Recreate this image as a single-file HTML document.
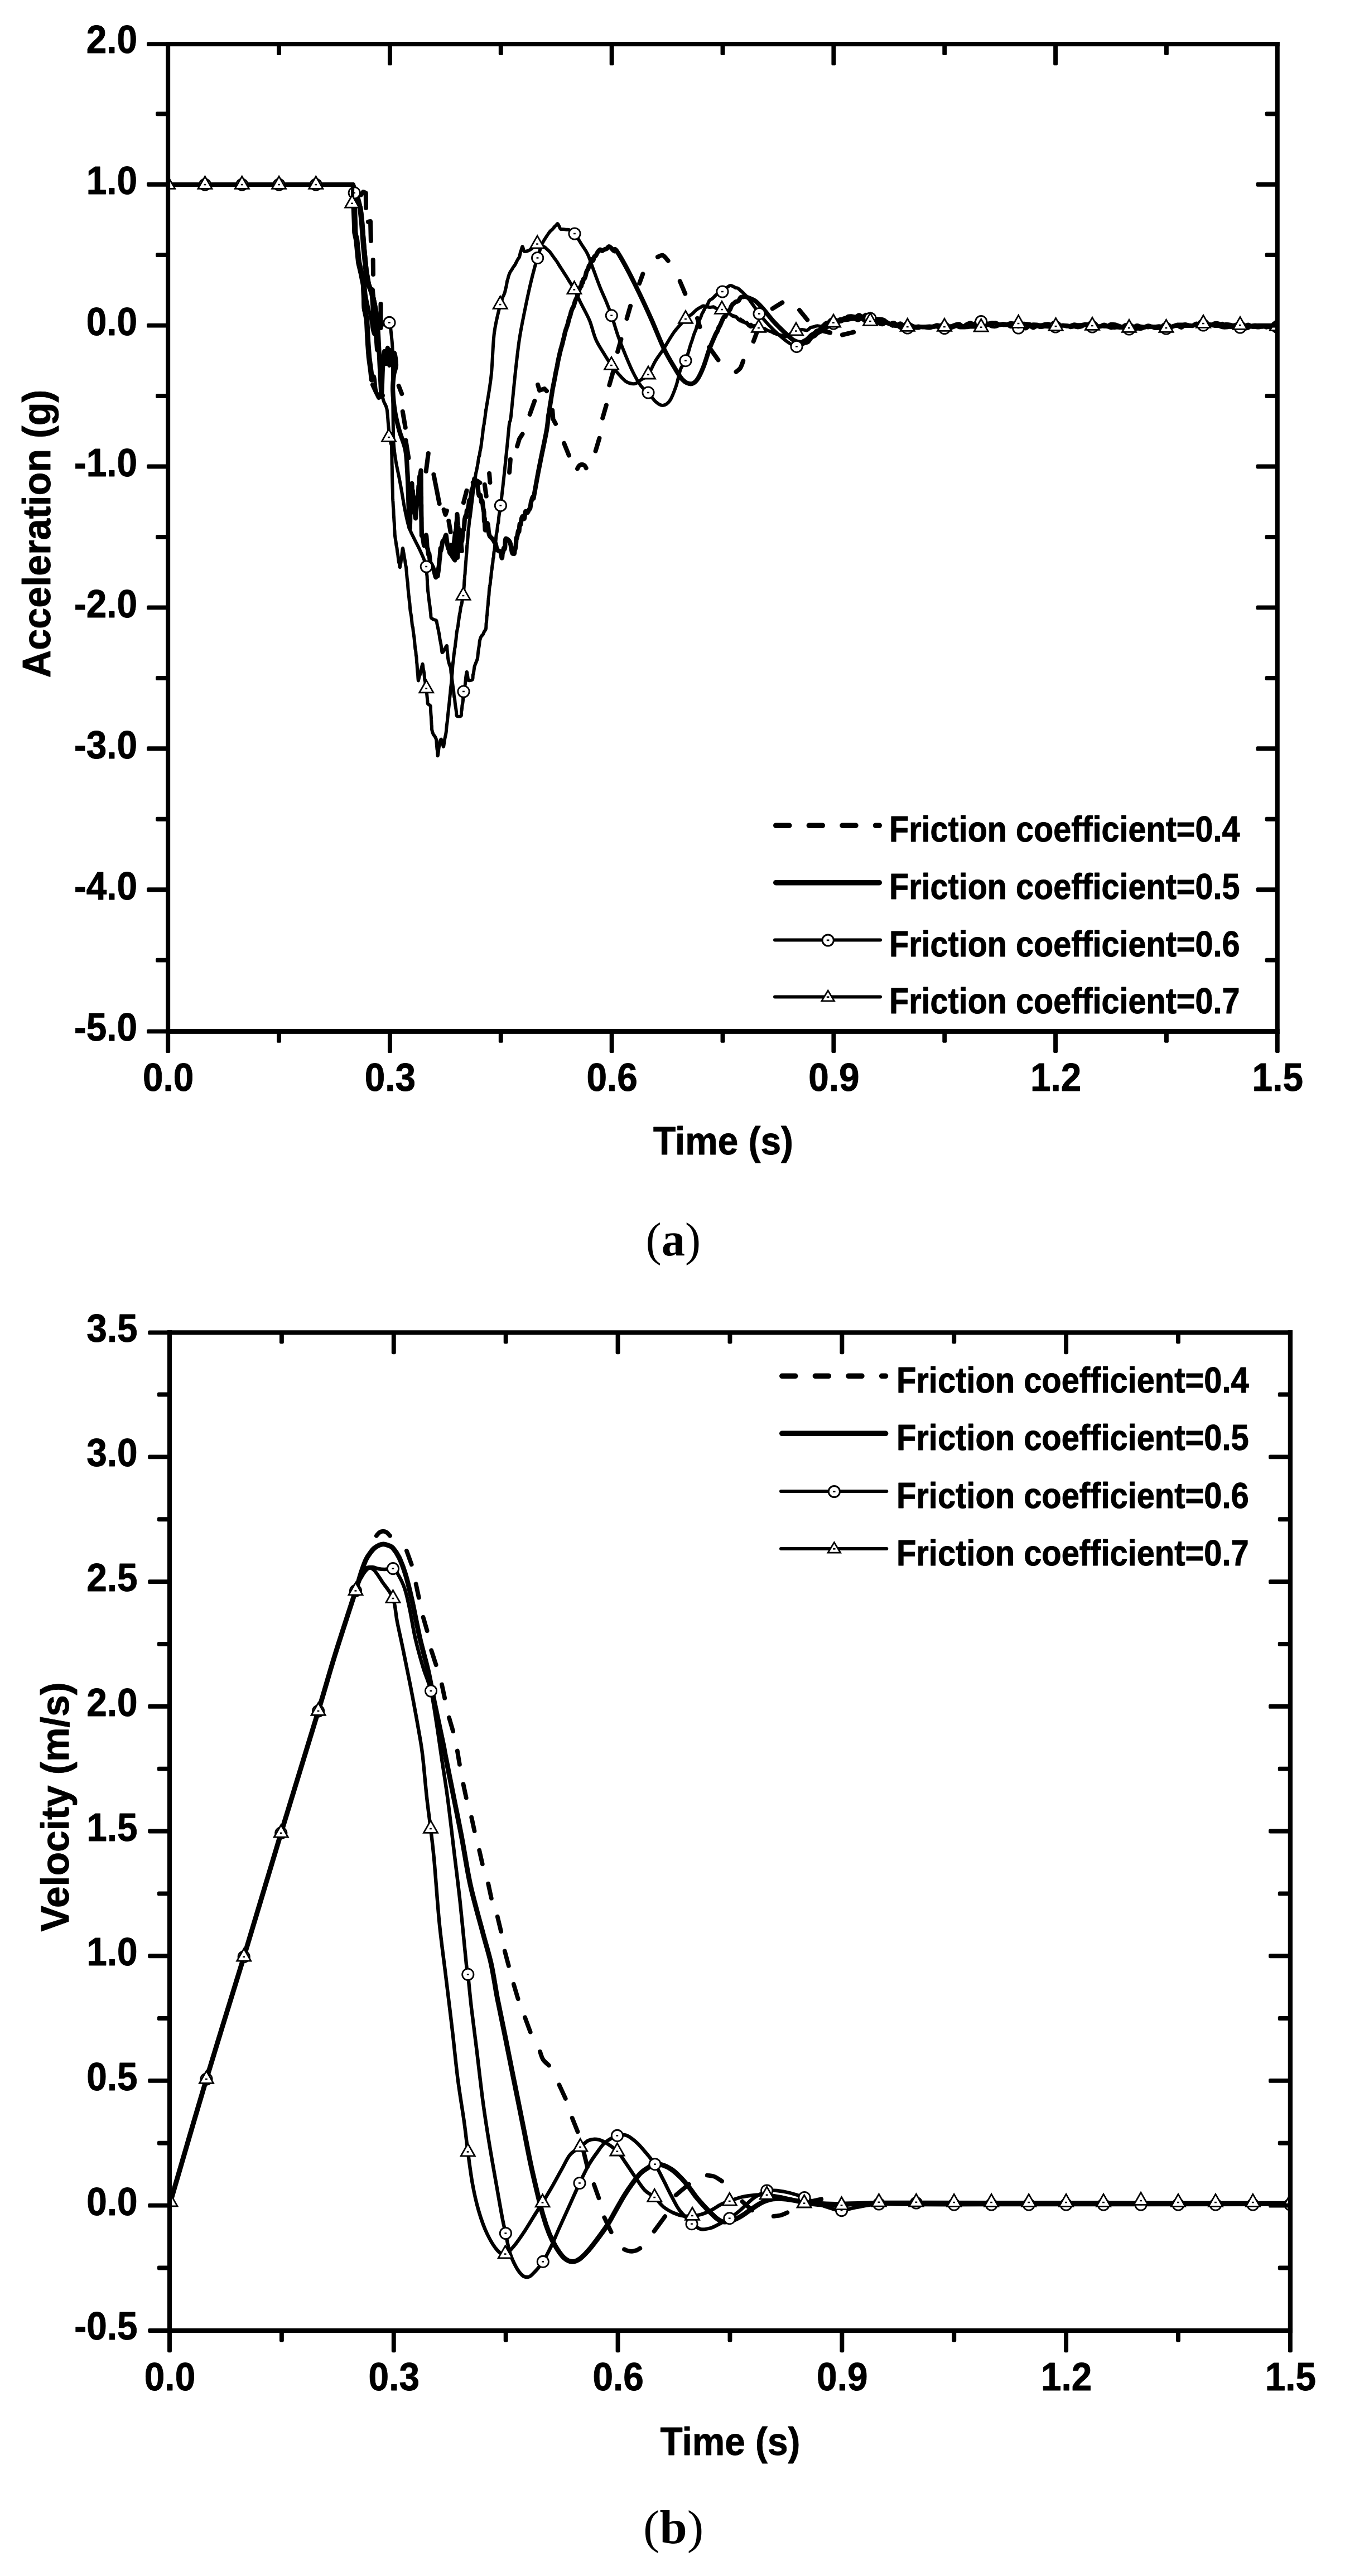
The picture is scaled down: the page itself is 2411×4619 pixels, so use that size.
<!DOCTYPE html>
<html><head><meta charset="utf-8"><title>Figure</title>
<style>html,body{margin:0;padding:0;background:#fff}svg{display:block}</style>
</head><body>
<svg width="2411" height="4619" viewBox="0 0 2411 4619">
<rect width="2411" height="4619" fill="#fff"/>
<clipPath id="ca"><rect x="301.2" y="79.1" width="1988.6000000000001" height="1770.3000000000002"/></clipPath><g clip-path="url(#ca)">
<g fill="none" stroke="#000" stroke-linecap="round" stroke-linejoin="round">
<path d="M647.2 349.4L651 344L655.8 346L656 372.7M660 397.7L664 397L664.9 432M668.7 466L669 492M682.5 545L682.5 588M714.7 691.9L720.3 706.1M721.8 738L726.7 766.6M727.3 789.5L732.3 821M763.7 845L767.8 813M777.4 851L787.6 903M795.6 913.9L798.5 923L800.9 915.9M804.3 934L807.7 954M809.4 977L812 990L816 955L820 1000L824 950L827.8 988M831 901.1L836.5 879.9M847.8 865.2L855 862L860.4 865.8M868.8 869L871.7 889.6M877.1 849L878.4 865M913.1 847L914.9 824M927.1 800.1L931 787L936.5 778.4M949.7 743.1L958.3 718.9M964.1 689.9L967 700L976 697L980 701.1M990.2 735.7L991.5 751.5L996 759.8M1011.1 794.7L1019.8 816.6M1035 840.3C1035.7 839.2 1037.4 835 1039.4 834C1041.4 833 1045.1 833.1 1047 834C1048.9 834.9 1050 838.3 1050.6 839.2M1067.6 808.7L1074.4 785.8M1080.2 749.6L1086.8 726.7M1092.3 690.5L1099.1 666.4M1107.1 630.6L1113.4 608.4M1123.6 571.1L1130 548.9M1146.2 508.1L1152.3 491.3M1178.9 460.9C1180.4 460.4 1184.9 456.7 1188 457.8C1191.1 458.9 1196 465.9 1197.6 467.6M1218.8 504.2L1228.2 526.6M1250.1 570.9L1254.5 586.1M1271.2 622.6L1287.4 645.4M1319.5 666.7C1320.7 665.6 1324.9 663.2 1327 660C1329.1 656.8 1331.4 649.5 1332.2 647.3M1350.7 612.1L1356.3 596.9M1384.7 553.4L1402.3 542.5M1433 556L1447.2 573.5M1471.9 592.5L1488.1 596.5M1509.9 600.5L1530.1 595.5" stroke-width="8.0"/>
<path d="M301.2 331L632.8 331M632.8 331C633.7 333.3 636.3 340.2 638 345C639.7 349.8 641.6 354.8 643 360C644.4 365.2 645.5 370.1 646.5 376C647.5 381.9 647.8 384.3 648.8 395.6C649.8 406.9 651.5 429.1 652.8 443.8C654.1 458.5 655.4 473 656.8 484C658.2 495 659.3 503.2 661 510C662.7 516.8 665.2 519.2 667 525C668.8 530.8 670 537.5 671.5 545C673 552.5 674.9 560.8 676 570C677.1 579.2 677.3 588.3 678 600C678.7 611.7 679.3 626.7 680 640C680.7 653.3 681.3 668.7 682 680C682.7 691.3 683.3 711.3 684 708C684.7 704.7 685.2 673 686 660C686.8 647 688 631.3 689 630C690 628.7 691 653 692 652C693 651 694 623.5 695 624C696 624.5 697 654.3 698 655C699 655.7 700 629.2 701 628C702 626.8 703 647.2 704 648C705 648.8 706 631.8 707 633C708 634.2 710.2 648.5 710 655C709.8 661.5 707 664.5 706 672C705 679.5 703.8 688.7 704.2 700C704.6 711.3 706.3 727.7 708.3 740C710.3 752.3 713.2 762.5 716.3 773.7C719.4 784.9 724.7 794.8 727 807C729.3 819.2 729.5 834.8 730.3 847C731.1 859.2 731.2 867.8 731.7 880C732.2 892.2 732.5 908.8 733 920C733.5 931.2 734.3 944.1 734.6 947C734.9 949.9 734.7 938.4 734.8 937.4C734.8 936.3 734.9 941.2 734.9 940.7C735 940.2 735 937.4 735.1 934.5C735.1 931.6 735.2 925.4 735.2 923.2C735.3 920.9 735.3 922.2 735.4 920.8C735.4 919.5 735.5 916.5 735.5 915.1C735.6 913.6 735.6 913.3 735.7 912.3C735.7 911.2 735.8 911.5 735.8 908.7C735.9 905.8 735.9 898.3 736 895.1C736.1 891.9 736.2 889.6 736.3 889.5C736.4 889.3 736.5 895.1 736.6 894.3C736.7 893.5 736.8 886.4 736.9 884.6C737 882.9 737 886.2 737.1 883.7C737.2 881.2 737.3 872 737.4 869.7C737.5 867.5 737.6 870.4 737.7 870.2C737.8 870 737.9 869.1 738 868.7C738.1 868.2 738.3 865.5 738.4 867.5C738.5 869.6 738.7 878 738.8 880.9C738.9 883.9 739.1 885.4 739.2 885.2C739.3 885 739.5 879.7 739.6 879.6C739.7 879.4 739.9 881.6 740 884.3C740.1 887 740.2 892.1 740.3 895.7C740.3 899.3 740.4 904.3 740.5 905.7C740.6 907.1 740.7 903.9 740.8 904.2C740.9 904.5 741 905.6 741 907.4C741.1 909.2 741.1 913.8 741.3 915.1C741.5 916.3 742.1 913.9 742.5 915C742.9 916.2 743.4 919.6 743.8 922C744.2 924.4 744.7 928.8 745 929.3C745.3 929.7 745.3 927 745.5 924.9C745.7 922.9 745.8 919 746 916.8C746.2 914.6 746.3 913.5 746.5 911.8C746.7 910.1 746.8 907.8 747 906.6C747.2 905.4 747.3 906 747.5 904.5C747.7 903 747.8 900 748 897.5C748.2 894.9 748.3 889.8 748.5 889.3C748.7 888.7 748.8 894.6 749 894.1C749.2 893.5 749.3 887.7 749.5 885.7C749.7 883.6 749.8 884.1 750 881.7C750.2 879.3 750.3 872.2 750.5 871.2C750.7 870.3 750.8 876.2 751 875.9C751.2 875.6 751.3 872.7 751.5 869.3C751.7 865.9 751.8 858.2 752 855.5C752.2 852.7 752.4 853.5 752.6 853C752.8 852.5 753 853.6 753.2 852.7C753.5 851.7 753.7 848.8 753.9 847.5C754.1 846.3 754.4 845.8 754.5 845.2C754.6 844.7 754.5 842.6 754.5 844.1C754.6 845.5 754.6 851.8 754.6 854C754.6 856.1 754.6 856.4 754.6 857C754.6 857.7 754.7 856.1 754.7 857.6C754.7 859.1 754.7 863.2 754.7 866.1C754.7 868.9 754.7 872.4 754.8 874.6C754.8 876.8 754.8 878.2 754.8 879.2C754.8 880.1 754.8 878.9 754.8 880.1C754.8 881.2 754.9 885.3 754.9 886.1C754.9 886.8 754.9 883.4 754.9 884.4C754.9 885.4 754.9 888.7 755 891.9C755 895.1 755 901.6 755 903.6C755 905.6 755.1 903.6 755.1 904C755.1 904.4 755.1 904.1 755.2 906.1C755.2 908 755.2 912.9 755.2 915.6C755.3 918.3 755.3 920.5 755.3 922.4C755.3 924.4 755.4 926.1 755.4 927.1C755.4 928.1 755.4 927.3 755.5 928.5C755.5 929.7 755.5 932.3 755.5 934.3C755.6 936.2 755.6 937.8 755.6 940.1C755.6 942.4 755.7 946.6 755.7 948.3C755.7 950 755.7 949.4 755.8 950.3C755.8 951.1 755.8 952.1 755.8 953.7C755.9 955.3 755.9 958.9 755.9 959.9C755.9 960.8 755.7 958.6 756 959.4C756.3 960.1 757.3 961.5 758 964.5C758.7 967.5 759.5 975.5 760 977.4C760.5 979.4 760.8 977.9 761.2 976.1C761.6 974.4 762 969.5 762.4 966.8C762.8 964.1 763.3 960.5 763.6 959.7C763.9 958.9 764.1 960 764.3 961.8C764.5 963.7 764.7 967.4 765 970.6C765.2 973.9 765.4 979 765.6 981.2C765.9 983.3 766.1 982.7 766.3 983.4C766.5 984.2 766.7 983.6 767 985.5C767.3 987.3 767.7 993.5 768.1 994.7C768.5 995.8 768.8 991.4 769.2 992.5C769.6 993.5 769.9 998 770.3 1001.2C770.7 1004.3 771.2 1009.5 771.7 1011.2C772.2 1012.9 772.7 1010.8 773.1 1011.4C773.6 1012 774.1 1013.8 774.6 1014.8C775.1 1015.7 775.3 1015.5 776 1017.2C776.7 1019 777.7 1022.4 778.6 1025.4C779.4 1028.4 780.3 1034.6 781.1 1035.1C782 1035.6 783.2 1028.8 783.7 1028.5C784.2 1028.1 784.1 1032.9 784.4 1032.9C784.6 1032.9 784.8 1029.9 785 1028.5C785.2 1027.1 785.5 1026.2 785.7 1024.4C785.9 1022.6 786.1 1019.5 786.3 1017.8C786.6 1016 786.8 1015.9 787 1013.7C787.2 1011.6 787.5 1007.1 787.7 1004.8C787.9 1002.5 788.1 1001.9 788.4 999.9C788.6 998 788.8 995.7 789 992.9C789.3 990.1 789.5 984 789.7 983.1C789.9 982.2 790 988 790.4 987.4C790.8 986.8 791.4 982.3 791.9 979.5C792.4 976.7 793 972.3 793.5 970.7C794 969.2 794.4 971 795 970.1C795.6 969.2 796.4 967.1 797.1 965.3C797.9 963.5 798.8 959.5 799.3 959.3C799.8 959 799.9 962 800.2 963.9C800.5 965.8 800.8 968.8 801.1 971C801.5 973.1 801.8 975 802.1 976.7C802.4 978.5 802.7 980.1 803 981.3C803.3 982.6 803.7 983.8 804 984.2C804.3 984.6 804.7 982.6 805 983.7C805.3 984.8 805.2 988.7 806 990.8C806.8 992.8 808.5 993.9 810 996.1C811.5 998.3 814.1 1002.9 815 1004C815.9 1005.1 815.1 1003.7 815.2 1002.6C815.3 1001.4 815.4 998.7 815.4 997C815.5 995.3 815.6 993.8 815.7 992.2C815.7 990.7 815.8 990.4 815.9 987.7C816 985 816 977.7 816.1 976.2C816.2 974.6 816.3 979.2 816.3 978.4C816.4 977.7 816.5 974.7 816.6 971.6C816.6 968.5 816.7 962.7 816.8 959.8C816.9 956.9 816.9 955.9 817 954.2C817.1 952.5 817.2 949.6 817.3 949.5C817.5 949.4 817.6 954.8 817.7 953.7C817.8 952.6 817.9 945.8 818 943C818.1 940.1 818.3 937.4 818.4 936.6C818.5 935.8 818.6 939.2 818.7 938.1C818.8 937.1 818.9 932.8 819.1 930.1C819.2 927.4 819.3 922.5 819.4 922.1C819.5 921.8 819.7 925.4 819.8 927.8C820 930.3 820.1 935.3 820.3 936.9C820.4 938.4 820.6 936.1 820.7 937.2C820.8 938.2 821 940.4 821.1 943C821.3 945.7 821.4 951 821.6 952.9C821.7 954.8 821.8 953.6 822 954.5C822.2 955.3 822.5 956.3 822.8 958C823.1 959.8 823.3 963.9 823.6 965C823.9 966.1 824.1 963.2 824.4 964.8C824.7 966.3 824.9 971.8 825.2 974.3C825.5 976.8 825.7 980.3 826 979.9C826.3 979.4 826.5 974.2 826.8 971.9C827 969.5 827.2 966 827.5 965.7C827.8 965.4 828 970.9 828.2 970C828.5 969.1 828.7 963.3 829 960.1C829.3 957 829.6 952.7 830 951.1C830.3 949.5 830.6 951.1 830.9 950.5C831.2 949.9 831.5 950.6 831.8 947.7C832.2 944.7 832.5 936 832.8 932.7C833.1 929.5 833.5 929.3 833.8 928C834.2 926.6 834.5 924.9 834.9 924.8C835.2 924.6 835.6 928.4 835.9 926.9C836.2 925.3 836.6 917 836.9 915.4C837.3 913.8 837.6 917.8 838 917.2C838.3 916.7 838.6 914.1 839 912.1C839.4 910.2 839.8 908.2 840.2 905.6C840.6 903.1 840.9 897.6 841.3 896.8C841.7 896 842.1 901.4 842.5 901C842.9 900.5 843.3 896.5 843.7 893.9C844.1 891.4 844.4 888.4 844.8 885.6C845.2 882.8 845.6 878.6 846 877.2C846.4 875.8 846.8 878.6 847.1 877.3C847.5 875.9 847.9 871 848.3 869.2C848.7 867.4 849.1 868.2 849.5 866.3C849.8 864.5 850 858 850.6 858.3C851.2 858.5 852.1 866.4 852.8 867.8C853.5 869.2 854.4 865.7 855 866.7C855.6 867.7 856 870.7 856.5 873.9C857 877.2 857.5 883.7 858 886.3C858.5 888.9 859 889.2 859.5 889.5C860 889.8 860.7 886.4 861.2 888.2C861.8 890 862.5 898.6 863 900.3C863.5 902 864 896.6 864.5 898.2C865 899.9 865.7 907.8 866 910.3C866.3 912.7 866.3 912.3 866.4 912.9C866.5 913.5 866.7 913.3 866.8 914C866.9 914.7 867.1 916.2 867.2 917C867.3 917.9 867.5 916.2 867.6 919.1C867.7 922 867.8 932.8 868 934.5C868.2 936.3 868.4 927.9 868.7 929.5C868.9 931 869.1 940.3 869.3 943.8C869.6 947.3 869.4 951.3 870 950.5C870.6 949.8 872.2 941 873 939.3C873.8 937.6 874 937.8 874.5 940.3C875 942.8 875.5 951 876 954.4C876.5 957.9 877.2 959.6 877.8 961.1C878.4 962.6 878.9 962.5 879.6 963.2C880.3 964 881.1 964.5 881.8 965.3C882.6 966.1 883.3 967 884.1 968.1C884.8 969.3 885.6 971 886.3 972.2C887 973.3 887.8 972.9 888.5 975.1C889.3 977.3 890 983.4 890.8 985.4C891.5 987.4 892.3 986.8 893 987.2C893.7 987.6 894.5 987.4 895.2 987.9C896 988.4 896.7 988.3 897.5 990.4C898.2 992.5 899.1 1000.5 899.7 1000.7C900.3 1000.9 900.4 993.5 900.8 991.7C901.2 989.8 901.5 991 901.9 989.6C902.3 988.1 902.6 983.6 903 982.9C903.4 982.2 903.8 985.4 904.1 985.1C904.5 984.8 904.9 984.3 905.3 981.1C905.6 978 905.1 968 906.4 966.2C907.7 964.4 911.5 968.5 913 970.4C914.5 972.3 914.7 974 915.5 977.4C916.3 980.8 917.2 988.3 918 990.8C918.8 993.4 919.3 992.7 920 992.9C920.7 993.1 921.6 993.3 922 992.1C922.4 990.8 922.4 986.3 922.7 985.2C922.9 984.1 923.1 986 923.3 985.4C923.6 984.9 923.8 983.4 924 982.1C924.2 980.7 924.5 980.4 924.8 977.5C925.1 974.6 925.3 966.7 925.6 964.7C925.9 962.6 926 966.4 926.4 965.4C926.8 964.4 927.3 960.9 927.7 958.6C928.2 956.3 928.6 952.6 929 951.7C929.5 950.8 929.9 955.2 930.4 953.2C930.8 951.3 931.2 941.8 931.7 939.8C932.1 937.8 932.4 943 933 941.2C933.6 939.4 934.5 931.6 935.2 929C936 926.4 936.8 925.4 937.5 925.6C938.2 925.7 939 931.4 939.8 930C940.5 928.6 941.1 918.9 942 917.2C942.9 915.4 944.3 920 945.4 919.3C946.5 918.6 948 914.2 948.8 912.9C949.6 911.6 949.8 913.3 950.3 911.3C950.8 909.4 951.3 903.7 951.8 901.2C952.3 898.7 952.8 898.1 953.2 896.4C953.7 894.8 954.2 891.8 954.7 891.4C955.2 891 955.7 894.7 956.2 893.9C956.7 893 956.3 893.7 957.7 886.2C959.1 878.8 962.2 860.7 964.4 849C966.6 837.3 968.4 828.8 971 815.8C973.6 802.8 978 782.6 980 771C982 759.4 982.3 751.2 983 746C983.7 740.8 983.8 742.1 984.1 739.9C984.5 737.7 984.9 735.4 985.2 732.8C985.6 730.2 986 726.7 986.4 724.3C986.8 721.8 987.1 720.4 987.5 718.1C987.9 715.8 988.2 712.7 988.6 710.2C989 707.7 989.4 705.4 989.8 703.1C990.1 700.7 990.5 698.2 990.9 696.1C991.2 694.1 991.6 692.8 992 690.7C992.4 688.7 992.9 686 993.4 683.7C993.8 681.4 994.3 679.4 994.7 676.9C995.2 674.5 995.6 671.5 996.1 669.1C996.5 666.8 997 664.9 997.4 662.8C997.9 660.7 998.3 658.6 998.8 656.3C999.2 653.9 999.7 651 1000.1 648.6C1000.6 646.3 1001 644.4 1001.5 642.1C1002 639.9 1002.6 637.4 1003.1 635.1C1003.6 632.8 1004.1 630.5 1004.7 628.4C1005.2 626.3 1005.7 624.3 1006.3 622.4C1006.8 620.6 1007.3 619.3 1007.8 617.3C1008.4 615.3 1008.9 612.4 1009.4 610.3C1010 608.2 1010.5 606.8 1011 604.6C1011.5 602.5 1012 599.6 1012.6 597.3C1013.2 595 1013.8 592.7 1014.5 590.7C1015.1 588.8 1015.7 587.4 1016.3 585.5C1017 583.6 1017.6 581.7 1018.2 579.4C1018.8 577 1019.4 573.6 1020.1 571.5C1020.7 569.4 1021.3 568.6 1021.9 566.6C1022.6 564.5 1023.1 561.4 1023.8 559.2C1024.5 557 1025.3 555 1026 553.3C1026.8 551.6 1027.5 551 1028.3 549C1029 547 1029.8 543.6 1030.5 541.4C1031.3 539.2 1032 537.5 1032.8 535.9C1033.5 534.2 1034.4 533.1 1035 531.5C1035.6 529.9 1035.9 528.1 1036.4 526.3C1036.8 524.6 1037.3 522.4 1037.8 520.9C1038.2 519.4 1038.7 518.6 1039.1 517.5C1039.6 516.3 1040 514.9 1040.5 514.2C1041 513.4 1041.4 514.6 1041.9 513.2C1042.3 511.9 1042.8 507 1043.2 505.9C1043.7 504.8 1044.2 507.7 1044.6 506.7C1045.1 505.7 1045.5 501.2 1046 500C1046.5 498.8 1047.1 500.4 1047.7 499.6C1048.2 498.9 1048.8 497.4 1049.3 495.6C1049.9 493.7 1050.4 490.3 1051 488.4C1051.6 486.6 1052.1 485.5 1052.7 484.5C1053.2 483.4 1053.8 483.4 1054.3 482C1054.9 480.6 1055.4 477.3 1056 476.2C1056.6 475.1 1057.1 476.9 1057.7 475.6C1058.2 474.3 1058.8 470.3 1059.3 468.4C1059.9 466.6 1060.4 464.8 1061 464.6C1061.6 464.3 1062.5 467.7 1063.2 467C1063.9 466.3 1064.7 461.5 1065.4 460.2C1066.1 458.8 1066.9 459.8 1067.6 458.9C1068.3 458.1 1069.1 456.4 1069.8 455.1C1070.5 453.8 1071 452.6 1072 451.4C1073 450.1 1074.4 447.7 1075.7 447.5C1076.9 447.2 1078.1 449.8 1079.3 449.8C1080.6 449.8 1081.6 448.3 1083 447.6C1084.4 446.9 1086.6 446.6 1088 445.6C1089.4 444.7 1090.2 442.4 1091.3 442.1C1092.4 441.8 1093.6 443 1094.7 443.9C1095.8 444.8 1096.9 446.4 1098 447.5C1099.1 448.5 1100.2 450.1 1101.3 450.3C1102.4 450.6 1101 443.8 1104.6 448.7C1108.2 453.7 1116.2 467.3 1123 480C1129.8 492.7 1138 509.2 1145.5 524.7C1153 540.2 1160.4 556.3 1167.8 573C1175.2 589.7 1183.2 610.8 1190 625C1196.8 639.2 1203.1 649.2 1208.7 658.5C1214.3 667.8 1218.6 675.9 1223.6 680.9C1228.5 685.9 1234.1 688.3 1238.4 688.3C1242.7 688.3 1245.9 685.9 1249.6 680.9C1253.3 675.9 1257 667.8 1260.7 658.5C1264.4 649.2 1268.3 634.9 1272 625C1275.7 615.1 1280.9 603.8 1283 599C1285.1 594.2 1284.2 597.1 1284.9 596C1285.5 594.9 1286.1 593.7 1286.8 592.1C1287.4 590.6 1288 588.1 1288.6 586.8C1289.2 585.5 1289.9 585.4 1290.5 584.2C1291.1 582.9 1291.8 580.9 1292.4 579.5C1293 578 1293.6 576.9 1294.2 575.5C1294.9 574.1 1295.5 572.3 1296.1 571.1C1296.8 569.8 1297.3 568.7 1298 568.1C1298.7 567.6 1299.4 568.7 1300.1 567.8C1300.8 566.9 1301.5 563.8 1302.2 562.5C1302.9 561.2 1303.6 561.1 1304.3 560.2C1305 559.3 1305.8 557.9 1306.5 557C1307.2 556.1 1307.9 556.3 1308.6 555C1309.3 553.8 1310 551.2 1310.7 549.7C1311.4 548.2 1312 547.2 1312.8 546.2C1313.6 545.2 1314.8 544.6 1315.8 543.7C1316.8 542.8 1317.8 541.6 1318.8 541.1C1319.8 540.5 1320.7 541.1 1321.7 540.6C1322.7 540.1 1323.7 539.4 1324.7 538.2C1325.7 536.9 1326.4 534.2 1327.7 533.2C1329 532.2 1330.8 532.5 1332.3 532.3C1333.9 532.2 1333.4 531 1337 532.2C1340.6 533.4 1348.4 535.9 1353.7 539.6C1359 543.3 1363 548.3 1368.6 554.5C1374.1 560.7 1380.8 570 1387 576.8C1393.2 583.6 1399.8 589.9 1405.7 595.4C1411.6 600.9 1417.5 606.9 1422.5 610C1427.5 613.1 1432.5 613.7 1435.5 614C1438.5 614.3 1438.7 612.6 1440.3 611.9C1441.9 611.1 1443.6 610.5 1445.2 609.4C1446.8 608.4 1448.4 606.8 1450 605.3C1451.6 603.8 1453.2 601.8 1454.8 600.6C1456.3 599.3 1457.9 599.1 1459.5 597.9C1461.1 596.7 1462.7 594.4 1464.2 593.4C1465.8 592.4 1467.2 593.1 1469 591.8C1470.8 590.6 1473.1 587.5 1475.2 585.9C1477.2 584.3 1479.3 583 1481.3 582.2C1483.4 581.4 1485.4 582 1487.5 581.1C1489.6 580.3 1491.6 577.8 1493.7 577C1495.7 576.3 1497.8 577.5 1499.8 576.8C1501.9 576.2 1503.8 573.6 1506 573C1508.2 572.3 1510.9 573.7 1513.3 572.8C1515.8 572 1518.2 568.6 1520.7 567.7C1523.1 566.9 1525.8 567.4 1528 567.5C1530.2 567.6 1532 569 1534 568.6C1536 568.1 1538 564.9 1540 565C1542 565 1544 568.7 1546 568.7C1548 568.6 1550 565 1552 564.8C1554 564.6 1555.9 566.3 1558 567.3C1560.1 568.2 1562.3 569.8 1564.4 570.6C1566.5 571.5 1568.7 572 1570.8 572.3C1572.9 572.6 1575.1 572.1 1577.2 572.4C1579.3 572.6 1581.5 572.8 1583.6 573.8C1585.7 574.7 1587.9 576.9 1590 578.1C1592.1 579.3 1594 580.8 1596 580.9C1598 581.1 1600 578.7 1602 579.1C1604 579.4 1606 582.6 1608 582.8C1610 583 1612 580 1614 580.4C1616 580.7 1618 584.6 1620 584.9C1622 585.1 1623.9 582.1 1626 581.8C1628.1 581.6 1630.5 582.6 1632.7 583.3C1634.9 584 1637.2 585.6 1639.4 586.1C1641.6 586.5 1643.9 585.7 1646.1 585.7C1648.3 585.7 1650.6 586.2 1652.8 586.3C1655 586.3 1657.3 586.2 1659.5 586.1C1661.7 586 1664 585.8 1666.2 585.7C1668.4 585.6 1670.7 586 1672.9 585.6C1675.1 585.2 1677.4 583.5 1679.6 583.3C1681.8 583.2 1684.1 584.6 1686.3 584.6C1688.5 584.6 1690.8 583.3 1693 583.4C1695.2 583.6 1697.3 585.3 1699.5 585.6C1701.7 585.8 1703.8 585.5 1706 585C1708.2 584.5 1710.3 583.3 1712.5 582.7C1714.7 582.1 1716.8 581 1719 581.4C1721.2 581.8 1723.3 584.7 1725.5 585.1C1727.7 585.6 1729.8 584.5 1732 584C1734.2 583.6 1736.3 582.8 1738.5 582.4C1740.7 582.1 1742.8 581.9 1745 582C1747.2 582.1 1749.3 583.2 1751.5 583C1753.7 582.8 1755.8 581.2 1758 580.8C1760.2 580.4 1762.5 580.7 1764.7 580.6C1766.9 580.6 1769.2 580.5 1771.4 580.5C1773.6 580.4 1775.9 580.4 1778.1 580.2C1780.3 580 1782.6 578.9 1784.8 579.2C1787 579.5 1789.3 581.8 1791.5 582.2C1793.7 582.5 1796 581.2 1798.2 581.2C1800.4 581.2 1802.7 582.3 1804.9 582C1807.1 581.8 1809.4 579.9 1811.6 579.8C1813.8 579.7 1816.1 581.1 1818.3 581.2C1820.5 581.3 1822.8 580.5 1825 580.3C1827.2 580.2 1829.5 580.3 1831.7 580.5C1833.9 580.6 1836.2 580.7 1838.4 581.3C1840.6 581.9 1842.9 583.9 1845.1 584.1C1847.3 584.3 1849.6 582.6 1851.8 582.3C1854 582.1 1856.3 582.3 1858.5 582.5C1860.7 582.8 1863 583.8 1865.2 583.7C1867.4 583.7 1869.7 582.6 1871.9 582.2C1874.1 581.8 1876.4 581 1878.6 581.3C1880.8 581.6 1883.1 583.5 1885.3 583.9C1887.5 584.4 1889.8 583.9 1892 584C1894.2 584.1 1896.5 584.7 1898.7 584.6C1900.9 584.5 1903.2 583.5 1905.4 583.5C1907.6 583.5 1909.9 584.4 1912.1 584.6C1914.3 584.7 1916.6 585 1918.8 584.7C1921 584.3 1923.3 582.5 1925.5 582.3C1927.7 582.1 1930 583.2 1932.2 583.4C1934.4 583.5 1936.7 583.4 1938.9 583.2C1941.1 583 1943.4 582 1945.6 581.9C1947.8 581.9 1950.1 582.5 1952.3 582.7C1954.5 582.9 1956.8 582.9 1959 583.3C1961.2 583.7 1963.4 584.7 1965.6 585.1C1967.8 585.4 1970 585.7 1972.2 585.3C1974.4 584.9 1976.6 582.7 1978.8 582.6C1981 582.4 1983.2 584.6 1985.4 584.5C1987.6 584.4 1989.8 582.3 1992 581.9C1994.2 581.5 1996.4 581.8 1998.6 582.2C2000.8 582.7 2003 583.8 2005.2 584.5C2007.4 585.1 2009.6 586.5 2011.8 586.3C2014 586.1 2016.2 583.3 2018.4 583.2C2020.6 583.2 2022.8 585.6 2025 586.2C2027.2 586.8 2029.4 587.1 2031.6 586.8C2033.8 586.4 2036 584.3 2038.2 584.1C2040.4 584 2042.6 585.5 2044.8 585.9C2047 586.3 2049.2 586.9 2051.4 586.6C2053.6 586.4 2055.8 584.5 2058 584.4C2060.2 584.3 2062.4 585.6 2064.6 585.9C2066.8 586.2 2069 586.2 2071.2 586.1C2073.4 586 2075.6 585.3 2077.8 585.4C2080 585.5 2082.2 586.4 2084.4 586.6C2086.6 586.9 2088.8 586.8 2091 586.8C2093.2 586.9 2095.5 587.2 2097.7 586.8C2099.9 586.5 2102.2 585.4 2104.4 584.7C2106.6 584 2108.9 583 2111.1 582.6C2113.3 582.3 2115.6 582.7 2117.8 582.7C2120 582.6 2122.3 582.1 2124.5 582.2C2126.7 582.3 2129 583.2 2131.2 583.5C2133.4 583.8 2135.7 584.6 2137.9 584.1C2140.1 583.6 2142.4 580.7 2144.6 580.5C2146.8 580.4 2149.1 582.7 2151.3 583.1C2153.5 583.5 2155.8 583.3 2158 583C2160.2 582.7 2162.4 581.6 2164.6 581.5C2166.8 581.4 2169 582.5 2171.2 582.5C2173.4 582.4 2175.6 580.8 2177.8 581.1C2180 581.3 2182.2 583.9 2184.4 583.9C2186.6 583.8 2188.8 580.6 2191 580.9C2193.2 581.1 2195.4 584.8 2197.6 585.4C2199.8 586.1 2202 585 2204.2 584.8C2206.4 584.6 2208.6 584.5 2210.8 584.2C2213 583.8 2215.2 582.4 2217.4 582.7C2219.6 583 2221.8 585.3 2224 585.9C2226.2 586.5 2228.4 586.8 2230.6 586.2C2232.8 585.7 2235 582.6 2237.2 582.5C2239.4 582.4 2241.5 585 2243.7 585.6C2245.9 586.1 2248.1 586 2250.3 586C2252.5 585.9 2254.7 585.3 2256.9 585.2C2259.1 585.2 2261.3 585.7 2263.5 585.5C2265.7 585.4 2267.9 584.2 2270.1 584.4C2272.3 584.7 2274.4 586.3 2276.6 586.8C2278.8 587.2 2281 587.4 2283.2 587.1C2285.4 586.7 2288.7 584.9 2289.8 584.5" stroke-width="8.2"/>
<path d="M1312.8 565.6L1316.4 566.9L1320.1 568.3L1323.7 573.1L1327.4 572.3L1331 577L1334.8 577.9L1338.5 578.1L1342.2 582.2L1346 581.6L1349.5 584.7L1353 583.8L1356.5 584.9L1360 587.6" stroke-width="6.0"/>
<path d="M632.5 345L633 364L634.5 374L635.5 400L636 417L638.8 430.4L640.8 450.5L642.8 470.6L647.5 490.7L651.5 510.7L652.5 530L653.5 553.5L657.5 573.5L659.5 613.7L661.5 640.5L665 667L666.5 681" stroke-width="9.5"/>
<path d="M667 520L669 545L671 575L675 600L677 627" stroke-width="10"/>
<path d="M645.5 372L648.3 395.6L652 443.8L656 484L660.5 510L666.5 525L671 545L675.5 570" stroke-width="9.5"/>
<path d="M668 690L674 703L679 713L686 709" stroke-width="8"/>
</g>
<path d="M632.8 331C633.2 333.4 634.7 340.7 635.4 345.5C636.1 350.3 636.5 355.2 636.8 360C637.1 364.8 637 367.3 637.2 374C637.4 380.7 637.8 392.8 638 400C638.2 407.2 638 411.9 638.5 417C639 422.1 640.5 424.8 641.3 430.4C642.1 436 642.6 443.8 643.3 450.5C644 457.2 644.2 463.9 645.3 470.6C646.4 477.3 648.5 484 650 490.7C651.5 497.4 653 504.1 654 510.7C655 517.2 655 523.5 656 530C657 536.5 658.5 543 660 550C661.5 557 663.7 565 665 572C666.3 579 666.8 587.3 668 592C669.2 596.7 670 600.7 672 600C674 599.3 677 591.3 680 588C683 584.7 687 581.6 690 580C693 578.4 696.6 576.9 698.3 578.5C700 580.1 699.4 581.5 700.3 589.6C701.2 597.7 703.1 611.9 703.7 627C704.3 642.1 703.9 661.2 704 680C704.1 698.8 704.2 721 704.5 740C704.8 759 704.8 779.3 705.6 793.8C706.5 808.3 708 817 709.6 827C711.2 837 713.3 845 715 854C716.7 863 718.2 870.5 720 880.7C721.8 890.9 723.8 904.3 726 915C728.2 925.7 730.3 936.7 733 945C735.7 953.3 738.8 958.3 742 965C745.2 971.7 749 978.7 752 985C755 991.3 758 997.8 760 1003C762 1008.2 763.5 1012.5 764.3 1016C765.1 1019.5 764.6 1021.6 764.7 1023.9C764.8 1026.3 764.9 1028.6 765.1 1030C765.2 1031.5 765.3 1031.1 765.5 1032.6C765.6 1034 765.7 1036.2 765.8 1038.8C766 1041.4 766.1 1045.4 766.2 1047.9C766.4 1050.4 766.5 1051.7 766.6 1053.6C766.7 1055.6 766.8 1057.7 767 1059.5C767.2 1061.2 767.5 1062.1 767.7 1064.1C768 1066 768.2 1069.1 768.5 1071.3C768.7 1073.5 769 1075.3 769.2 1077.3C769.5 1079.3 769.7 1081.5 770 1083.2C770.2 1084.9 770.4 1085.7 770.7 1087.6C770.9 1089.5 771.2 1092.5 771.4 1094.7C771.7 1096.8 771.9 1098.3 772.2 1100.5C772.4 1102.8 772 1106.2 772.9 1107.9C773.8 1109.6 775.9 1110.1 777.5 1110.9C779 1111.7 781.1 1111.6 782 1112.6C782.9 1113.6 782.7 1115.2 783.1 1116.8C783.4 1118.4 783.8 1120.5 784.2 1122.3C784.5 1124 784.9 1125.7 785.3 1127.4C785.6 1129.1 786 1130.5 786.3 1132.3C786.7 1134.1 787.1 1135.9 787.4 1138.1C787.8 1140.4 788.2 1143.6 788.5 1145.7C788.9 1147.9 789.2 1149 789.6 1151C790 1152.9 790.4 1154.9 790.7 1157.3C791.1 1159.7 791.5 1163.3 791.9 1165.5C792.2 1167.6 792.2 1170.2 793 1170.1C793.8 1170 795.6 1166.8 796.9 1164.7C798.1 1162.7 800 1158.3 800.7 1157.9C801.4 1157.5 801.1 1160.5 801.3 1162.3C801.5 1164.2 801.7 1167 801.9 1168.8C802 1170.6 802.2 1171.4 802.4 1173.3C802.6 1175.2 802.6 1177.6 803 1180C803.4 1182.5 804.1 1186 804.6 1188.2C805.1 1190.4 805.7 1191.6 806.2 1193.1C806.7 1194.6 807.4 1195.2 807.8 1197.3C808.2 1199.4 808.3 1203.5 808.5 1205.8C808.8 1208 809 1209.2 809.3 1210.9C809.5 1212.7 809.8 1214.3 810 1216.3C810.3 1218.2 810.5 1220.7 810.8 1222.5C811 1224.4 811.3 1225.8 811.5 1227.6C811.7 1229.3 812 1231.6 812.2 1233.2C812.4 1234.7 812.7 1235 812.9 1236.9C813.1 1238.9 813.4 1242.7 813.6 1244.9C813.8 1247.2 814.1 1249.1 814.3 1250.3C814.5 1251.6 814.8 1250.9 815 1252.6C815.2 1254.4 815.5 1258.6 815.8 1261C816.1 1263.4 816.3 1265.1 816.6 1266.9C816.9 1268.7 817.1 1270 817.4 1271.8C817.7 1273.7 817.9 1276.1 818.2 1278.1C818.5 1280.1 817.6 1283 819 1284C820.4 1284.9 825 1285 826.4 1283.7C827.8 1282.4 826.9 1278.3 827.1 1276.4C827.4 1274.5 827.6 1274.1 827.8 1272.1C828.1 1270.2 828.3 1266.4 828.6 1264.6C828.8 1262.8 829 1262.6 829.3 1261.1C829.5 1259.6 829.8 1258 830 1255.6C830.2 1253.2 830.3 1249.4 830.5 1246.8C830.7 1244.3 830.7 1242.3 831 1240.3C831.3 1238.3 831.9 1237.1 832.4 1234.9C832.9 1232.8 833.4 1229.7 833.8 1227.4C834.1 1225 834.3 1223 834.5 1220.8C834.7 1218.6 835 1216.1 835.2 1214.1C835.4 1212.2 835.7 1210.5 835.9 1208.9C836.1 1207.4 836.3 1204.9 836.6 1204.8C836.9 1204.7 837.4 1206.3 837.7 1208.3C838.1 1210.4 838.5 1215 838.9 1217C839.2 1218.9 838.7 1219.8 840 1220.1C841.3 1220.4 845.5 1220.2 846.8 1218.6C848.1 1217.1 847.4 1212.5 847.8 1210.7C848.1 1208.9 848.4 1209.4 848.7 1207.8C849 1206.3 849.3 1203.5 849.6 1201.3C850 1199.2 850.1 1196.9 850.6 1195C851.1 1193.1 851.8 1191.6 852.4 1190.1C853 1188.5 853.6 1187.2 854.2 1185.6C854.8 1184 855.6 1182.5 856 1180.4C856.4 1178.2 856.5 1175.2 856.8 1172.8C857.1 1170.5 857.3 1168 857.6 1166C857.9 1164 858.1 1162.5 858.4 1160.8C858.7 1159.2 858.9 1158.2 859.2 1156.1C859.5 1154.1 859.4 1151.1 860 1148.5C860.6 1145.9 861.8 1142.5 862.8 1140.7C863.7 1139 864.6 1139.6 865.5 1138.1C866.4 1136.7 867.3 1134 868.2 1132.2C869.2 1130.4 870.5 1129.6 871 1127.3C871.5 1125 871.4 1120.5 871.5 1118.4C871.7 1116.2 871.9 1116.6 872.1 1114.5C872.3 1112.4 872.5 1107.8 872.6 1105.7C872.8 1103.6 873 1103.9 873.2 1102C873.4 1100.1 873.5 1096.7 873.7 1094.4C873.9 1092.1 874.1 1089.7 874.3 1088.1C874.5 1086.5 874.6 1086.7 874.8 1084.6C875 1082.5 875.2 1077.7 875.4 1075.5C875.5 1073.2 875.7 1072.6 875.9 1071.1C876.1 1069.5 876.3 1068.5 876.5 1066.3C876.6 1064.1 876.8 1060.3 877 1057.8C877.2 1055.3 877.5 1053.1 877.8 1051.4C878 1049.8 878.3 1049.8 878.6 1047.9C878.8 1046 879.1 1042.1 879.3 1039.9C879.6 1037.7 879.9 1037.2 880.1 1034.9C880.4 1032.5 880.6 1028.2 880.9 1025.9C881.1 1023.6 881.4 1023 881.7 1021C881.9 1019.1 882.2 1015.9 882.4 1014.1C882.7 1012.2 883 1012 883.2 1009.9C883.5 1007.8 883.7 1003.1 884 1001.3C884.3 999.6 884.5 1001.1 884.8 999.2C885 997.3 885.2 992 885.5 990C885.8 987.9 886 989.1 886.2 987.2C886.5 985.3 886.8 981 887 978.8C887.2 976.6 887.5 975.5 887.8 974.1C888 972.8 888.2 972.7 888.5 970.8C888.8 968.9 889 964.9 889.2 962.6C889.5 960.3 889.7 958.7 890 957.1C890.3 955.6 890.5 955.2 890.8 953.4C891.1 951.6 891.4 948.7 891.6 946.4C891.9 944 892.2 940.8 892.5 939.2C892.7 937.7 893 939.1 893.3 937.2C893.6 935.4 893.8 930.7 894.1 928.1C894.4 925.6 894.7 923.7 894.9 921.9C895.2 920.1 895.5 918.9 895.8 917.3C896 915.8 896.3 914.3 896.6 912.6C896.9 911 896.2 918 897.4 907.4C898.6 896.8 902 868 904 849C906 830 908.2 808.3 909.7 793.5C911.2 778.7 912 767.9 913 760C914 752.1 914.3 760.7 916 746C917.7 731.3 920.9 694.6 923.4 671.7C925.9 648.8 928.2 627.1 931 608.5C933.8 589.9 936.9 575.5 940 560C943.1 544.5 946.3 529.2 949.4 515.6C952.5 502 956.3 487.2 958.7 478.4C961.1 469.5 961.4 469.3 963.6 462.5C965.8 455.7 968.5 444.8 971.7 437.5C974.9 430.2 980.5 422.9 983 419C985.5 415.1 985.4 415.6 986.7 414.3C987.9 412.9 989.1 412.4 990.3 411.1C991.6 409.8 992.9 407.8 994 406.6C995.1 405.4 995.9 404.9 996.8 404C997.7 403.1 998.7 400.8 999.6 401.1C1000.5 401.4 1001.4 404.1 1002.3 405.7C1003.2 407.3 1003.7 409.9 1005 410.7C1006.3 411.6 1008.3 410.8 1010 411C1011.7 411.1 1013.3 411.7 1015 411.8C1016.7 412 1018.3 411.5 1020 412C1021.7 412.6 1023.3 414.1 1025 415.2C1026.7 416.2 1027.2 414.6 1030 418.3C1032.8 422 1038.1 431.2 1042 437.5C1045.9 443.8 1049.7 447.9 1053.5 456C1057.3 464.1 1061 476 1064.7 485.9C1068.4 495.8 1072.1 506.3 1075.8 515.6C1079.5 524.9 1083.6 533.2 1087 541.6C1090.4 550 1092.8 555.6 1096.3 565.8C1099.8 576 1104.1 591.7 1108 602.8C1111.9 613.9 1115.2 622 1119.5 632.5C1123.8 643 1129.1 656.1 1134 666C1138.9 675.9 1144.3 685.7 1149 692C1153.7 698.3 1157.7 699.3 1162 704C1166.3 708.7 1170.7 716.2 1175 720C1179.3 723.8 1183.7 727.3 1188 727C1192.3 726.7 1197 723.8 1201 718C1205 712.2 1208.8 701.3 1212 692C1215.2 682.7 1217.2 669.5 1220 662C1222.8 654.5 1226 654.1 1229 646.7C1232 639.3 1236.2 623.4 1238 617.7C1239.8 612 1239.3 614.3 1239.9 612.4C1240.6 610.5 1241.2 608.2 1241.9 606.1C1242.5 604 1243.2 601.9 1243.8 600.1C1244.4 598.2 1245.1 596.7 1245.7 595.1C1246.4 593.5 1247 592.3 1247.7 590.4C1248.3 588.4 1248.9 585.2 1249.6 583.3C1250.3 581.4 1251.1 580.6 1251.8 579C1252.6 577.3 1253.3 575.1 1254 573.4C1254.8 571.6 1255.5 570.2 1256.3 568.4C1257 566.6 1257.7 564.1 1258.5 562.5C1259.2 560.9 1259.9 560.5 1260.7 558.9C1261.5 557.3 1262.6 554.6 1263.5 552.9C1264.5 551.3 1265.4 550.5 1266.3 549C1267.3 547.5 1268.2 545.8 1269.2 544C1270.1 542.3 1270.6 540.2 1272 538.6C1273.4 537.1 1275.7 536.5 1277.5 534.9C1279.3 533.4 1281.1 530.8 1283 529.3C1284.9 527.7 1287 526.8 1289 525.6C1291 524.4 1293.2 523.2 1295 522.1C1296.8 520.9 1298.1 519.8 1299.7 518.6C1301.2 517.3 1302.8 515.8 1304.3 514.7C1305.9 513.6 1307.4 512.2 1309 512C1310.6 511.8 1312.3 512.8 1314 513.5C1315.7 514.2 1317.3 515.5 1319 516.2C1320.7 516.9 1320.7 515.2 1324 517.9C1327.3 520.5 1334.5 527.1 1338.8 532C1343.1 536.9 1346.3 541.9 1350 547C1353.7 552.1 1356.7 557 1361 562.6C1365.3 568.2 1370.4 574.4 1376 580.5C1381.6 586.6 1388.4 593.4 1394.6 599C1400.8 604.6 1407.4 610.3 1413 614C1418.6 617.7 1423 621.1 1428 621.4C1433 621.7 1439.5 617.1 1443 615.8C1446.5 614.5 1447.1 615.4 1449.2 613.7C1451.2 612.1 1453.3 607.8 1455.3 605.9C1457.4 604 1459.7 603.9 1461.5 602.5C1463.3 601.2 1464.6 599.1 1466.1 598C1467.7 596.8 1469.2 596.8 1470.8 595.8C1472.3 594.9 1473.8 593.3 1475.4 592.3C1476.9 591.2 1478.2 590.6 1480 589.4C1481.8 588.2 1484.2 586.9 1486.2 585.2C1488.3 583.6 1490.4 580.9 1492.5 579.4C1494.5 577.9 1496.6 577.2 1498.7 576.4C1500.8 575.7 1503 575.9 1505.2 575C1507.4 574 1509.5 571.6 1511.7 570.6C1513.9 569.6 1516 569.2 1518.2 568.8C1520.4 568.5 1522.4 568.8 1524.7 568.6C1527 568.4 1529.4 567.2 1531.8 567.6C1534.1 568 1536.5 570.6 1538.8 570.8C1541.2 571.1 1543.5 569.4 1545.9 569C1548.2 568.7 1550.6 568.7 1552.9 568.8C1555.3 568.8 1557.7 569 1560 569.5C1562.3 570.1 1564.4 571.2 1566.7 571.9C1568.9 572.7 1571.1 573.1 1573.3 574C1575.6 575 1577.8 576.7 1580 577.6C1582.2 578.5 1584.4 578.9 1586.7 579.5C1588.9 580.1 1591.1 580.1 1593.3 581C1595.6 581.8 1597.8 584.2 1600 584.7C1602.2 585.1 1604.5 583.1 1606.7 583.7C1608.9 584.2 1611.2 587 1613.4 587.9C1615.6 588.8 1617.9 588.9 1620.1 589.1C1622.3 589.3 1624.6 589.3 1626.8 589.1C1629 588.8 1631.2 587.9 1633.4 587.7C1635.6 587.6 1637.8 588 1640 588.2C1642.2 588.3 1644.5 588.9 1646.7 588.5C1648.9 588.2 1651.1 586.2 1653.3 586.1C1655.5 586 1657.7 587.5 1659.9 587.9C1662.1 588.3 1664.3 588.6 1666.5 588.4C1668.7 588.3 1670.9 587.2 1673.1 586.9C1675.3 586.6 1677.6 586 1679.8 586.5C1682 587 1684.2 589.6 1686.4 589.8C1688.6 590.1 1690.8 588.3 1693 587.9C1695.2 587.5 1697.4 587.4 1699.6 587.4C1701.8 587.5 1704 588.5 1706.1 588.1C1708.3 587.8 1710.5 586.4 1712.7 585.6C1714.9 584.7 1717.1 583 1719.3 582.9C1721.5 582.8 1723.7 585.3 1725.8 585C1728 584.7 1730.2 582.1 1732.4 581C1734.6 579.9 1736.8 578.4 1739 578.2C1741.2 578.1 1743.4 580.5 1745.6 580.2C1747.8 579.8 1749.9 577 1752.1 576.3C1754.3 575.6 1756.5 575.5 1758.7 576.1C1760.9 576.7 1763.2 579 1765.4 579.7C1767.6 580.3 1769.8 580.3 1772.1 580C1774.3 579.7 1776.5 577.9 1778.8 578.1C1781 578.3 1783.2 580.5 1785.5 581.2C1787.7 581.8 1789.9 581.7 1792.2 582.1C1794.4 582.5 1796.6 583.3 1798.8 583.5C1801.1 583.7 1803.3 582.9 1805.5 583.4C1807.8 583.8 1810 585.9 1812.2 586.2C1814.5 586.5 1816.7 584.8 1818.9 584.9C1821.1 585.1 1823.4 586.6 1825.6 587C1827.8 587.4 1830 586.8 1832.2 587.2C1834.5 587.6 1836.7 589.9 1838.9 589.6C1841.1 589.3 1843.3 585.7 1845.5 585.5C1847.7 585.2 1849.9 588.4 1852.2 588.4C1854.4 588.4 1856.6 585.8 1858.8 585.6C1861 585.4 1863.2 587 1865.4 587.1C1867.7 587.2 1869.9 586.3 1872.1 586.1C1874.3 586 1876.5 586 1878.7 586.2C1880.9 586.4 1883.1 587.5 1885.4 587.4C1887.6 587.2 1889.8 586.1 1892 585.5C1894.2 585 1896.5 584.4 1898.7 584.2C1900.9 583.9 1903.2 584.1 1905.4 584.1C1907.6 584 1909.9 583.2 1912.1 583.8C1914.3 584.3 1916.6 586.8 1918.8 587.2C1921 587.6 1923.3 586.1 1925.5 586.1C1927.7 586.2 1930 587.5 1932.2 587.5C1934.4 587.5 1936.7 586.9 1938.9 586.2C1941.1 585.4 1943.4 583.1 1945.6 583C1947.8 583 1950.1 585.3 1952.3 585.8C1954.5 586.4 1956.8 586.2 1959 586.3C1961.2 586.4 1963.4 586.5 1965.6 586.4C1967.8 586.3 1970 585.9 1972.2 585.8C1974.4 585.6 1976.6 585.4 1978.8 585.5C1981 585.6 1983.2 585.9 1985.4 586.4C1987.6 586.9 1989.8 588.4 1992 588.4C1994.2 588.4 1996.4 586.4 1998.6 586.3C2000.8 586.3 2003 587.6 2005.2 587.9C2007.4 588.2 2009.6 587.6 2011.8 588.1C2014 588.6 2016.2 590.3 2018.4 590.7C2020.6 591.1 2022.8 590.4 2025 590.4C2027.2 590.4 2029.4 590.8 2031.6 590.7C2033.8 590.6 2036 590.5 2038.2 589.9C2040.4 589.4 2042.6 587.7 2044.8 587.2C2047 586.6 2049.2 586.5 2051.4 586.6C2053.6 586.6 2055.8 587.5 2058 587.4C2060.2 587.4 2062.4 586.2 2064.6 586.1C2066.8 585.9 2069 586.3 2071.2 586.6C2073.4 586.8 2075.6 587.1 2077.8 587.4C2080 587.7 2082.2 588.4 2084.4 588.2C2086.6 588.1 2088.8 586.5 2091 586.4C2093.2 586.3 2095.5 587.8 2097.7 587.4C2099.9 587 2102.2 584.3 2104.4 583.9C2106.6 583.6 2108.9 584.4 2111.1 585C2113.3 585.7 2115.6 588.1 2117.8 587.9C2120 587.7 2122.3 584.4 2124.5 583.9C2126.7 583.4 2129 585.1 2131.2 585C2133.4 584.9 2135.7 583.6 2137.9 583.3C2140.1 583 2142.4 582.7 2144.6 583.3C2146.8 583.9 2149.1 586.3 2151.3 586.9C2153.5 587.6 2155.8 587.4 2158 587.2C2160.2 587.1 2162.4 586.5 2164.6 586C2166.8 585.4 2169 584.1 2171.2 583.9C2173.4 583.7 2175.6 584.8 2177.8 585C2180 585.1 2182.2 584.6 2184.4 585C2186.6 585.4 2188.8 586.8 2191 587.3C2193.2 587.7 2195.4 587.7 2197.6 587.6C2199.8 587.6 2202 586.8 2204.2 586.8C2206.4 586.8 2208.6 587.7 2210.8 587.5C2213 587.4 2215.2 585.8 2217.4 585.9C2219.6 586 2221.8 587.5 2224 588.2C2226.2 588.8 2228.4 589.7 2230.6 589.8C2232.8 589.8 2235 589.3 2237.2 588.6C2239.4 587.8 2241.5 585.5 2243.7 585.2C2245.9 585 2248.1 586.5 2250.3 586.9C2252.5 587.3 2254.7 587.8 2256.9 587.5C2259.1 587.2 2261.3 585 2263.5 585.1C2265.7 585.1 2267.9 587.7 2270.1 587.7C2272.3 587.8 2274.4 585.7 2276.6 585.4C2278.8 585.2 2281 586.4 2283.2 586.2C2285.4 586.1 2288.7 584.8 2289.8 584.6" fill="none" stroke="#000" stroke-width="6.0" stroke-linecap="round" stroke-linejoin="round"/>
<circle cx="367.5" cy="331" r="10.15" fill="#fff" stroke="#000" stroke-width="2.8"/><rect x="365.5" y="329.7" width="3.8" height="2.5"/>
<circle cx="433.8" cy="331" r="10.15" fill="#fff" stroke="#000" stroke-width="2.8"/><rect x="431.8" y="329.7" width="3.8" height="2.5"/>
<circle cx="500.1" cy="331" r="10.15" fill="#fff" stroke="#000" stroke-width="2.8"/><rect x="498.1" y="329.7" width="3.8" height="2.5"/>
<circle cx="566.3" cy="331" r="10.15" fill="#fff" stroke="#000" stroke-width="2.8"/><rect x="564.3" y="329.7" width="3.8" height="2.5"/>
<circle cx="635.2" cy="345.8" r="10.15" fill="#fff" stroke="#000" stroke-width="2.8"/><rect x="633.2" y="344.5" width="3.8" height="2.5"/>
<circle cx="698" cy="578.4" r="10.15" fill="#fff" stroke="#000" stroke-width="2.8"/><rect x="696" y="577.1" width="3.8" height="2.5"/>
<circle cx="764.3" cy="1016" r="10.15" fill="#fff" stroke="#000" stroke-width="2.8"/><rect x="762.3" y="1014.7" width="3.8" height="2.5"/>
<circle cx="831" cy="1240" r="10.15" fill="#fff" stroke="#000" stroke-width="2.8"/><rect x="829" y="1238.7" width="3.8" height="2.5"/>
<circle cx="897.4" cy="906.4" r="10.15" fill="#fff" stroke="#000" stroke-width="2.8"/><rect x="895.4" y="905.1" width="3.8" height="2.5"/>
<circle cx="963.6" cy="462.5" r="10.15" fill="#fff" stroke="#000" stroke-width="2.8"/><rect x="961.6" y="461.2" width="3.8" height="2.5"/>
<circle cx="1030" cy="419" r="10.15" fill="#fff" stroke="#000" stroke-width="2.8"/><rect x="1028" y="417.7" width="3.8" height="2.5"/>
<circle cx="1096.3" cy="565.8" r="10.15" fill="#fff" stroke="#000" stroke-width="2.8"/><rect x="1094.3" y="564.5" width="3.8" height="2.5"/>
<circle cx="1162" cy="704" r="10.15" fill="#fff" stroke="#000" stroke-width="2.8"/><rect x="1160" y="702.7" width="3.8" height="2.5"/>
<circle cx="1229" cy="646.7" r="10.15" fill="#fff" stroke="#000" stroke-width="2.8"/><rect x="1227" y="645.4" width="3.8" height="2.5"/>
<circle cx="1295" cy="523" r="10.15" fill="#fff" stroke="#000" stroke-width="2.8"/><rect x="1293" y="521.7" width="3.8" height="2.5"/>
<circle cx="1361" cy="562.6" r="10.15" fill="#fff" stroke="#000" stroke-width="2.8"/><rect x="1359" y="561.3" width="3.8" height="2.5"/>
<circle cx="1428" cy="621.4" r="10.15" fill="#fff" stroke="#000" stroke-width="2.8"/><rect x="1426" y="620.1" width="3.8" height="2.5"/>
<circle cx="1494" cy="580" r="10.15" fill="#fff" stroke="#000" stroke-width="2.8"/><rect x="1492" y="578.7" width="3.8" height="2.5"/>
<circle cx="1560" cy="571" r="10.15" fill="#fff" stroke="#000" stroke-width="2.8"/><rect x="1558" y="569.7" width="3.8" height="2.5"/>
<circle cx="1626.8" cy="588" r="10.15" fill="#fff" stroke="#000" stroke-width="2.8"/><rect x="1624.8" y="586.7" width="3.8" height="2.5"/>
<circle cx="1693" cy="588.5" r="10.15" fill="#fff" stroke="#000" stroke-width="2.8"/><rect x="1691" y="587.2" width="3.8" height="2.5"/>
<circle cx="1758.7" cy="576.6" r="10.15" fill="#fff" stroke="#000" stroke-width="2.8"/><rect x="1756.7" y="575.3" width="3.8" height="2.5"/>
<circle cx="1825.6" cy="588" r="10.15" fill="#fff" stroke="#000" stroke-width="2.8"/><rect x="1823.6" y="586.7" width="3.8" height="2.5"/>
<circle cx="1892" cy="586" r="10.15" fill="#fff" stroke="#000" stroke-width="2.8"/><rect x="1890" y="584.7" width="3.8" height="2.5"/>
<circle cx="1958" cy="586" r="10.15" fill="#fff" stroke="#000" stroke-width="2.8"/><rect x="1956" y="584.7" width="3.8" height="2.5"/>
<circle cx="2024" cy="590" r="10.15" fill="#fff" stroke="#000" stroke-width="2.8"/><rect x="2022" y="588.7" width="3.8" height="2.5"/>
<circle cx="2090.5" cy="589" r="10.15" fill="#fff" stroke="#000" stroke-width="2.8"/><rect x="2088.5" y="587.7" width="3.8" height="2.5"/>
<circle cx="2157" cy="583" r="10.15" fill="#fff" stroke="#000" stroke-width="2.8"/><rect x="2155" y="581.7" width="3.8" height="2.5"/>
<circle cx="2223" cy="587" r="10.15" fill="#fff" stroke="#000" stroke-width="2.8"/><rect x="2221" y="585.7" width="3.8" height="2.5"/>
<circle cx="2289" cy="586" r="10.15" fill="#fff" stroke="#000" stroke-width="2.8"/><rect x="2287" y="584.7" width="3.8" height="2.5"/>
<path d="M632.8 331C632.7 333.3 632 339.5 632 345C632 350.5 632.2 359.2 632.5 364C632.8 368.8 633.4 368 633.7 374C634 380 634.3 392.8 634.5 400C634.7 407.2 634.5 411.9 635 417C635.5 422.1 637 424.8 637.8 430.4C638.6 436 639.1 443.8 639.8 450.5C640.5 457.2 640.7 463.9 641.8 470.6C642.9 477.3 645 484 646.5 490.7C648 497.4 649.8 504.1 650.5 510.7C651.2 517.2 650.8 522.9 651 530C651.2 537.1 650.9 546.2 651.8 553.5C652.7 560.8 655.4 563.5 656.5 573.5C657.6 583.5 657.8 602.5 658.5 613.7C659.2 624.9 659.5 631.6 660.5 640.5C661.5 649.4 663.6 660.4 664.5 667C665.4 673.6 664.7 678.7 665.8 680C666.9 681.3 669.6 671.8 671 675C672.4 678.2 672.8 692.8 674 699C675.2 705.2 676.3 710.5 678 712C679.7 713.5 682.3 706.7 684 708C685.7 709.3 686.4 715.8 688 720C689.6 724.2 692.2 726.8 693.5 733.5C694.8 740.2 695.2 751.5 696 760C696.8 768.5 697.6 779.6 698.2 784.4C698.8 789.2 699 786.8 699.5 788.6C699.9 790.3 700.3 793.2 700.7 795C701.2 796.8 701.8 797.5 702 799.5C702.2 801.4 702.1 804.4 702.1 806.7C702.2 808.9 702.2 811.3 702.2 813C702.3 814.7 702.3 815.3 702.4 817C702.4 818.7 702.5 820.5 702.5 823.1C702.5 825.7 702.6 830.4 702.6 832.6C702.7 834.8 702.7 834.9 702.8 836.5C702.8 838.2 702.8 840.1 702.9 842.7C702.9 845.3 703 849.8 703 852C703 854.2 703.1 853.9 703.1 855.8C703.2 857.7 703.2 861.2 703.3 863.2C703.3 865.2 703.4 865.8 703.4 867.7C703.5 869.5 703.5 872.5 703.6 874.3C703.6 876 703.7 876.3 703.7 878.2C703.8 880.2 703.8 883.7 703.9 886.1C703.9 888.6 703.9 891 704 893C704.1 894.9 704.2 895.7 704.3 897.7C704.5 899.6 704.6 902.5 704.7 904.6C704.8 906.8 704.9 908.9 705 910.4C705.2 912 705.3 912 705.4 914.1C705.5 916.2 705.6 920.6 705.7 922.9C705.8 925.3 706 926.6 706.1 928.4C706.2 930.1 706.3 931.6 706.4 933.3C706.5 934.9 706.6 935.9 706.8 938.3C706.9 940.7 707 945.4 707.1 947.7C707.2 950 707.3 950.3 707.5 952.2C707.6 954.1 707.6 957 707.8 959.3C708 961.6 708.4 963.9 708.7 965.9C709 968 709.3 969.3 709.6 971.3C709.9 973.4 710.2 976.4 710.5 978.2C710.8 980 711.1 980.2 711.4 982.1C711.7 984 712 987.7 712.3 989.8C712.6 991.8 712.9 992.3 713.2 994.4C713.5 996.5 713.8 1000.1 714.1 1002.4C714.4 1004.7 714.7 1006.7 715 1008.2C715.3 1009.6 715.6 1009.5 715.9 1011.1C716.2 1012.6 716.5 1017.2 716.8 1017.2C717.1 1017.3 717.4 1013 717.7 1011.6C718 1010.2 718.2 1010.5 718.5 1008.7C718.8 1006.8 719.1 1002.8 719.4 1000.6C719.7 998.4 720 997.5 720.3 995.4C720.6 993.3 720.8 990.2 721.1 988.2C721.4 986.1 721.7 983 722 983C722.3 983 722.7 986.4 723 988.1C723.3 989.9 723.7 991.6 724 993.6C724.3 995.6 724.7 998.1 725 1000.1C725.3 1002.1 725.7 1003.6 726 1005.7C726.3 1007.7 726.7 1010.6 727 1012.5C727.3 1014.5 727.7 1015.3 728 1017.2C728.3 1019.2 728.4 1022.1 728.6 1024.3C728.8 1026.4 729 1028 729.1 1030.1C729.3 1032.1 729.5 1034.8 729.7 1036.7C729.9 1038.6 730.1 1040 730.3 1041.5C730.5 1042.9 730.7 1043.4 730.9 1045.5C731 1047.7 731.2 1051.8 731.4 1054.4C731.6 1056.9 731.8 1058.8 732 1060.9C732.2 1062.9 732.4 1065 732.6 1066.8C732.8 1068.6 733 1069.7 733.2 1071.6C733.4 1073.5 733.6 1076.5 733.9 1078.4C734.1 1080.2 734.3 1080.4 734.5 1082.5C734.7 1084.6 734.9 1088.9 735.1 1091.2C735.3 1093.5 735.5 1094.6 735.7 1096.3C736 1098 736.3 1099.6 736.6 1101.3C736.9 1103 737.2 1104.2 737.5 1106.6C737.8 1109 738.1 1113.2 738.4 1115.9C738.6 1118.6 738.9 1121.1 739.2 1122.6C739.5 1124.2 739.8 1123.3 740.1 1125.2C740.4 1127.1 740.7 1132 741 1134.2C741.3 1136.4 741.5 1137 741.7 1138.5C741.9 1140 742.1 1141.5 742.4 1143.4C742.6 1145.2 742.8 1147.4 743.1 1149.8C743.3 1152.2 743.5 1155.2 743.8 1157.6C744 1159.9 744.2 1162.4 744.4 1163.9C744.7 1165.3 744.9 1164.6 745.1 1166.4C745.4 1168.2 745.6 1172.6 745.8 1174.6C746 1176.5 746.3 1176.2 746.5 1178.2C746.7 1180.2 746.8 1184.6 747 1186.7C747.2 1188.9 747.3 1189 747.5 1191C747.7 1193.1 747.8 1196.7 748 1199.1C748.2 1201.5 748.3 1203.6 748.5 1205.4C748.7 1207.1 748.8 1207.3 749 1209.3C749.2 1211.3 749.3 1215.3 749.5 1217.1C749.7 1219 749.7 1220.9 750 1220.2C750.3 1219.6 751 1215.1 751.5 1213.3C752 1211.5 752.5 1211.4 753 1209.4C753.5 1207.4 754.1 1203.4 754.6 1201.1C755.1 1198.9 755.6 1197.5 756.1 1195.8C756.6 1194 757.2 1190.3 757.6 1190.6C758 1191 758.2 1195.9 758.5 1197.9C758.8 1199.9 759.1 1200.8 759.5 1202.6C759.8 1204.4 760.1 1206 760.4 1208.7C760.7 1211.3 761 1216.2 761.3 1218.5C761.6 1220.7 761.9 1220.2 762.2 1222.2C762.5 1224.2 762.8 1228.3 763.1 1230.7C763.4 1233.1 763.8 1234.9 764 1236.4C764.2 1237.9 764.4 1238.2 764.6 1239.7C764.8 1241.2 765 1243.5 765.2 1245.4C765.4 1247.3 765.6 1249.2 765.8 1251.1C766 1253 766.2 1255.1 766.4 1257C766.6 1258.8 766.1 1260.7 767 1262.2C767.9 1263.6 770.8 1264 771.6 1265.7C772.4 1267.4 771.9 1270 772 1272.3C772.1 1274.7 772.2 1277.9 772.4 1280C772.5 1282 772.6 1282.8 772.8 1284.6C772.9 1286.4 773 1288.4 773.1 1290.7C773.3 1292.9 773.4 1296.2 773.5 1298.2C773.7 1300.2 773.8 1300.8 773.9 1302.6C774 1304.4 773.8 1306.8 774.3 1309.2C774.8 1311.6 776 1315.1 776.8 1316.9C777.6 1318.7 778.5 1318.7 779.3 1320.1C780.1 1321.5 781.3 1323.7 781.8 1325.2C782.3 1326.7 782.2 1327.1 782.4 1329C782.5 1330.9 782.7 1334.2 782.9 1336.5C783.1 1338.9 783.3 1341.4 783.5 1343.1C783.7 1344.9 783.9 1344.8 784 1346.8C784.2 1348.8 784.3 1354.8 784.6 1355.2C784.9 1355.5 785.3 1351.3 785.7 1348.7C786.1 1346.2 786.4 1342.1 786.8 1339.9C787.2 1337.8 787.5 1337.6 787.9 1335.7C788.3 1333.8 788.5 1330.2 789 1328.6C789.5 1326.9 790.4 1325.3 791 1325.7C791.6 1326.1 792.3 1328.7 792.9 1330.9C793.5 1333.1 794.3 1338.4 794.8 1338.8C795.3 1339.2 795.6 1335.6 796 1333.3C796.4 1330.9 796.9 1327.1 797.3 1324.8C797.7 1322.4 798.2 1320.7 798.5 1319.2C798.8 1317.8 799 1317.2 799.2 1315.8C799.4 1314.4 799.7 1313.3 799.9 1311.1C800.1 1308.8 800.4 1304.6 800.6 1302.3C800.8 1300 801.1 1299 801.3 1297.2C801.5 1295.5 801.8 1294 802 1291.9C802.2 1289.8 802.4 1286.8 802.7 1284.5C802.9 1282.3 803.1 1280.5 803.3 1278.5C803.6 1276.4 803.8 1274.1 804 1272C804.2 1269.9 804.4 1267.9 804.7 1266C804.9 1264.1 805.1 1262.8 805.3 1260.6C805.6 1258.5 805.8 1255.4 806 1253.2C806.2 1251 806.4 1249.1 806.6 1247.3C806.8 1245.6 807 1245 807.2 1242.8C807.4 1240.5 807.6 1235.8 807.9 1233.6C808.1 1231.4 808.3 1231.2 808.5 1229.6C808.7 1228 808.9 1226.3 809.1 1224.1C809.3 1221.9 809.5 1218.5 809.7 1216.2C809.9 1213.9 810 1211.8 810.2 1210.3C810.3 1208.8 810.5 1208.9 810.6 1207C810.8 1205.2 810.9 1201.4 811.1 1199.2C811.2 1196.9 811.4 1195.1 811.5 1193.3C811.7 1191.6 811.8 1190.4 812 1188.7C812.2 1187.1 812.5 1185.9 812.8 1183.6C813 1181.3 813.3 1177.3 813.6 1175C813.8 1172.6 814.1 1171.5 814.3 1169.6C814.6 1167.7 814.9 1165.2 815.1 1163.4C815.4 1161.7 815.6 1161.2 815.9 1159.2C816.1 1157.2 816.4 1153.5 816.7 1151.4C816.9 1149.4 817.2 1149.1 817.4 1146.9C817.7 1144.6 818 1140.3 818.2 1137.9C818.5 1135.5 818.7 1134.1 819 1132.3C819.3 1130.6 819.6 1129.2 820 1127.6C820.3 1125.9 820.6 1124.6 821 1122.5C821.3 1120.3 821.6 1117.2 821.9 1114.7C822.2 1112.3 822.6 1110 822.9 1107.8C823.2 1105.6 823.5 1103.2 823.9 1101.4C824.2 1099.6 824.5 1098.9 824.8 1097C825.2 1095 825.5 1091.4 825.8 1089.6C826.1 1087.8 826.4 1087.5 826.8 1086C827.2 1084.5 827.6 1082.8 828 1080.6C828.4 1078.3 828.9 1074.6 829.3 1072.3C829.7 1070.1 830.2 1068.6 830.5 1067.1C830.8 1065.6 830.8 1065.1 830.9 1063.4C831.1 1061.7 831.2 1058.9 831.4 1057C831.5 1055 831.7 1054 831.8 1051.8C832 1049.7 832.1 1046.6 832.2 1044.2C832.4 1041.8 832.5 1039.5 832.7 1037.5C832.8 1035.5 833 1033.9 833.1 1032.4C833.3 1030.9 833.4 1030.5 833.6 1028.6C833.7 1026.6 833.8 1023 834 1020.7C834.2 1018.4 834.3 1016.8 834.5 1014.8C834.6 1012.8 834.8 1010.9 835 1008.9C835.1 1006.9 835.3 1004.8 835.5 1002.7C835.6 1000.6 835.8 998.2 835.9 996.5C836.1 994.7 836.3 994.6 836.4 992.3C836.6 990.1 836.7 985.7 836.9 983.1C837.1 980.4 837.2 977.8 837.4 976.3C837.5 974.7 837.7 975.3 837.9 973.8C838 972.4 838.2 969.4 838.3 967.4C838.5 965.4 838.7 964 838.8 961.6C839 959.3 839.2 955.3 839.3 953.2C839.5 951.1 839.6 950.8 839.8 949.1C840 947.4 840.4 945.3 840.6 942.7C840.9 940.2 841.2 935.9 841.5 933.7C841.8 931.5 842 931.2 842.3 929.5C842.6 927.8 842.9 925.7 843.2 923.6C843.4 921.5 843.7 918.9 844 916.7C844.3 914.4 844.5 912.3 844.8 910C845.1 907.7 845.3 905.1 845.6 903C845.9 900.8 846.1 899.2 846.4 897.1C846.7 895 846.9 892.8 847.2 890.5C847.5 888.3 847.7 885.6 848 883.8C848.3 882 848.5 881.7 848.8 879.8C849.1 877.9 849.3 874.4 849.6 872.5C849.9 870.6 850.1 870.7 850.4 868.5C850.7 866.3 850.9 861.3 851.2 859.4C851.5 857.4 851.7 858.3 852 856.7C852.3 855.1 852.5 851.7 852.8 849.8C853.1 847.8 853.5 846.9 853.9 845.1C854.3 843.4 854.7 841.4 855 839.5C855.4 837.6 855.8 836 856.1 833.9C856.5 831.9 856.9 829.5 857.2 827.1C857.6 824.7 858 821 858.4 819.3C858.7 817.6 859.1 818.4 859.5 816.7C859.8 814.9 860.2 811 860.6 808.8C861 806.7 861.4 805.3 861.7 803.8C862 802.3 862.2 801.4 862.4 799.7C862.7 797.9 862.9 795.5 863.1 793.5C863.4 791.5 863.6 789 863.9 787.5C864.1 785.9 864.3 785.7 864.6 784C864.8 782.2 865 779.3 865.3 777C865.5 774.8 865.7 772.5 866 770.4C866.3 768.2 866.6 765.8 866.9 764.2C867.1 762.5 867.4 762.5 867.7 760.7C868 758.9 868.3 755.3 868.6 753.3C868.9 751.3 869.1 750.7 869.4 748.7C869.7 746.7 870 743.5 870.3 741.1C870.6 738.8 870.9 736.5 871.1 734.6C871.4 732.8 870.4 740.6 872 730.1C873.6 719.6 878.4 693.9 880.7 671.7C883 649.5 883.3 618 886 597C888.7 576 894.6 555.3 896.7 546C898.8 536.7 898.1 543.1 898.8 541C899.5 539 900.2 535.6 900.9 533.7C901.5 531.8 902.2 531.1 902.9 529.5C903.6 527.8 904.4 526 905 524C905.6 522.1 905.9 519.8 906.4 517.7C906.9 515.7 907.3 514.1 907.8 511.8C908.3 509.5 908.7 505.9 909.2 503.8C909.7 501.7 910.1 501 910.6 499.3C911.1 497.7 911.3 495.9 912 493.9C912.7 491.9 913.8 489.2 914.8 487.4C915.7 485.7 916.6 484.9 917.5 483.5C918.4 482 919.3 480.3 920.2 478.9C921.2 477.5 922.1 476.6 923 475.1C923.9 473.5 924.8 471.5 925.7 469.8C926.6 468.1 927.4 466.5 928.3 464.9C929.2 463.4 930.3 462.6 931 460.7C931.7 458.7 932.2 455.3 932.8 453.1C933.4 451 934 449.4 934.6 447.6C935.2 445.8 935.8 442.3 936.4 442.1C937 441.9 937.6 445.1 938.2 446.6C938.8 448.1 938.6 450.5 940 451C941.4 451.5 944.3 450.5 946.5 449.6C948.7 448.8 951.1 447.4 953 445.9C954.9 444.3 956.4 441.6 958.1 440.3C959.8 438.9 961.3 437.6 963.2 437.5C965.1 437.4 967.3 439 969.4 439.8C971.4 440.6 973.5 441.3 975.5 442.6C977.5 443.8 979.2 445.6 981 447.3C982.9 449 985.1 450.9 986.6 452.8C988.1 454.6 989.1 456.4 990.3 458.2C991.6 459.9 992.8 461.5 994 463.2C995.3 464.9 996.5 466.5 997.8 468.4C999 470.2 998.5 469.5 1001.5 474.3C1004.5 479.1 1011.4 489.5 1016 497C1020.6 504.5 1025.1 511.3 1029.4 519.3C1033.7 527.3 1037.4 535.7 1042 545C1046.6 554.3 1052.7 564.4 1057 575C1061.3 585.6 1063.7 598.6 1068 608.5C1072.3 618.4 1078.3 626.9 1083 634.6C1087.7 642.4 1091.8 649.1 1096 655C1100.2 660.9 1103.5 664.8 1108 669.7C1112.5 674.6 1118 681.6 1123 684.6C1128 687.6 1133.7 688.6 1138 688C1142.3 687.4 1145 683.6 1149 680.9C1153 678.2 1157.7 677.2 1162 671.6C1166.3 666 1170.3 654.8 1175 647C1179.7 639.2 1184.4 633.7 1190 625C1195.6 616.3 1202.2 603.8 1208.7 595C1215.2 586.2 1224.9 576.6 1229 572C1233.1 567.4 1231.8 568.5 1233.2 567.4C1234.7 566.2 1236.1 566 1237.5 565.2C1238.9 564.3 1240.3 563.4 1241.8 562.1C1243.2 560.9 1244.5 559 1246 557.6C1247.5 556.2 1249.3 554.8 1250.9 553.7C1252.5 552.6 1254.2 551.9 1255.8 551C1257.4 550.2 1258.9 548.8 1260.7 548.6C1262.5 548.4 1264.8 549.5 1266.8 549.9C1268.8 550.3 1270.9 550.9 1272.9 551C1274.9 551.1 1277.2 550 1279 550.3C1280.8 550.7 1282.3 552.4 1284 553C1285.7 553.6 1287.3 553.6 1289 553.9C1290.7 554.2 1292.5 554.4 1294 554.8C1295.5 555.2 1296.5 555.7 1297.8 556.5C1299 557.2 1300.3 558.2 1301.5 559.2C1302.8 560.2 1304 561.8 1305.3 562.4C1306.5 563.1 1307.8 562.4 1309 563.1C1310.3 563.8 1311.6 565.8 1312.8 566.6C1314 567.4 1315.2 567.3 1316.4 567.6C1317.7 568 1318.9 567.9 1320.1 568.8C1321.3 569.6 1322.5 571.4 1323.7 572.5C1324.9 573.6 1326.1 575.2 1327.4 575.6C1328.6 575.9 1329.8 574.1 1331 574.6C1332.2 575 1333.5 577.3 1334.8 578.2C1336 579.1 1337.2 579 1338.5 580C1339.8 581 1341 583.1 1342.2 584.2C1343.5 585.2 1344.8 586.2 1346 586.3C1347.2 586.3 1348.3 584 1349.5 584.3C1350.7 584.6 1351.8 587.4 1353 588.1C1354.2 588.8 1355.3 588.7 1356.5 588.5C1357.7 588.3 1358.5 586.7 1360 586.8C1361.5 586.9 1363.6 588.7 1365.3 589.1C1367.1 589.5 1368.9 588.7 1370.7 589.3C1372.4 589.8 1374.1 591.7 1376 592.5C1377.9 593.4 1380.1 593.7 1382.2 594.6C1384.3 595.4 1386.3 596.8 1388.4 597.7C1390.5 598.6 1392.4 599.3 1394.6 599.9C1396.8 600.5 1399.4 600.8 1401.8 601.4C1404.2 602 1406.8 603.8 1409 603.5C1411.2 603.2 1413 601.2 1415 599.9C1417 598.5 1419 596.4 1421 595.4C1423 594.4 1424.9 594.4 1427 593.8C1429.1 593.1 1431.4 591.8 1433.5 591.4C1435.7 590.9 1437.9 591 1440.1 591.2C1442.2 591.3 1444.5 593 1446.6 592.4C1448.7 591.8 1450.7 588.7 1452.7 587.6C1454.8 586.6 1456.8 586.6 1458.9 586C1460.9 585.4 1462.7 584.3 1465 584.2C1467.3 584 1470 585.9 1472.5 585C1475 584.1 1477.6 580.3 1480 579C1482.4 577.8 1484.7 577.2 1487 577.4C1489.3 577.5 1491.8 580.5 1494 580.2C1496.2 579.8 1498.1 575.8 1500.1 575.3C1502.2 574.8 1504.2 577.2 1506.3 577.1C1508.3 577.1 1510.4 575.4 1512.4 574.8C1514.5 574.3 1516.5 574.4 1518.6 574.1C1520.6 573.8 1522.6 573.3 1524.7 573.1C1526.8 572.8 1529.1 572.3 1531.4 572.5C1533.6 572.8 1535.8 574.7 1538 574.7C1540.2 574.7 1542.5 572 1544.7 572.3C1546.9 572.7 1549.1 576.1 1551.3 576.9C1553.6 577.6 1555.9 576.6 1558 576.9C1560.1 577.2 1562 578.7 1564 578.7C1566 578.7 1568 576.4 1570 576.8C1572 577.1 1574 579.7 1576 580.6C1578 581.5 1580 582.6 1582 582.3C1584 582.1 1586 579.4 1588 579.2C1590 579 1592 580.6 1594 581.3C1596 582 1597.9 582.6 1600 583.3C1602.1 584 1604.5 585.3 1606.7 585.3C1608.9 585.3 1611.2 583.6 1613.4 583.3C1615.6 583.1 1617.9 583.5 1620.1 583.8C1622.3 584 1624.6 584.4 1626.8 584.8C1629 585.3 1631.2 586.1 1633.4 586.5C1635.6 586.9 1637.8 587.3 1640 587.2C1642.2 587 1644.5 585.8 1646.7 585.5C1648.9 585.2 1651.1 585.4 1653.3 585.4C1655.5 585.4 1657.7 585.5 1659.9 585.5C1662.1 585.5 1664.3 585.3 1666.5 585.3C1668.7 585.3 1670.9 585.8 1673.1 585.6C1675.3 585.4 1677.6 584 1679.8 584.1C1682 584.1 1684.2 585.3 1686.4 586C1688.6 586.7 1690.8 588.2 1693 588.2C1695.2 588.1 1697.4 585.8 1699.6 585.7C1701.8 585.5 1704 587.4 1706.1 587.3C1708.3 587.1 1710.5 584.7 1712.7 584.6C1714.9 584.6 1717.1 586.7 1719.3 587.2C1721.5 587.6 1723.7 587.5 1725.8 587.5C1728 587.5 1730.2 587.4 1732.4 587.2C1734.6 587.1 1736.8 586.7 1739 586.6C1741.2 586.4 1743.4 586.4 1745.6 586.5C1747.8 586.6 1749.9 586.9 1752.1 587.3C1754.3 587.6 1756.5 589 1758.7 588.5C1760.9 588 1763.2 585.3 1765.4 584.4C1767.6 583.6 1769.8 583.3 1772.1 583.5C1774.3 583.7 1776.5 585.4 1778.8 585.8C1781 586.2 1783.2 586.3 1785.5 585.9C1787.7 585.5 1789.9 584 1792.2 583.4C1794.4 582.8 1796.6 582.5 1798.8 582.4C1801.1 582.3 1803.3 583.4 1805.5 583C1807.8 582.6 1810 580.5 1812.2 579.9C1814.5 579.3 1816.7 579.8 1818.9 579.6C1821.1 579.4 1823.4 578.4 1825.6 578.6C1827.8 578.8 1830.1 580.7 1832.3 581C1834.5 581.3 1836.8 580.4 1839 580.3C1841.2 580.3 1843.5 580.1 1845.7 580.6C1847.9 581.1 1850.2 582.5 1852.4 583.3C1854.6 584 1856.9 585.2 1859.1 585.1C1861.3 585 1863.6 582.7 1865.8 582.7C1868 582.7 1870.3 584.9 1872.5 585.1C1874.7 585.4 1877 584.1 1879.2 584.4C1881.4 584.7 1883.7 586.7 1885.9 587C1888.1 587.4 1890.4 586.8 1892.6 586.4C1894.8 586 1897 585.1 1899.2 584.7C1901.5 584.4 1903.7 584.6 1905.9 584.3C1908.1 584 1910.3 583.1 1912.5 583.2C1914.7 583.3 1916.9 584.9 1919.2 585.1C1921.4 585.3 1923.6 584.8 1925.8 584.5C1928 584.2 1930.2 583.4 1932.4 583.3C1934.7 583.2 1936.9 583.9 1939.1 584C1941.3 584 1943.5 583.3 1945.7 583.6C1947.9 583.8 1950.1 585.7 1952.4 585.5C1954.6 585.3 1956.8 582.2 1959 582.4C1961.2 582.6 1963.4 586.3 1965.6 586.7C1967.8 587.1 1970 584.9 1972.2 584.7C1974.4 584.5 1976.6 585.5 1978.8 585.7C1981 585.8 1983.2 585.1 1985.4 585.5C1987.6 585.8 1989.8 587.1 1992 587.5C1994.2 587.9 1996.4 588 1998.6 587.9C2000.8 587.8 2003 587.2 2005.2 587.1C2007.4 586.9 2009.6 586.9 2011.8 587.1C2014 587.4 2016.2 588.2 2018.4 588.6C2020.6 589 2022.8 589.8 2025 589.6C2027.2 589.5 2029.4 587.6 2031.6 587.5C2033.8 587.4 2036 588.6 2038.2 589.1C2040.4 589.5 2042.6 590.3 2044.8 590.1C2047 589.9 2049.2 588.4 2051.4 587.9C2053.6 587.3 2055.8 586.9 2058 586.8C2060.2 586.6 2062.4 586.4 2064.6 586.8C2066.8 587.2 2069 588.7 2071.2 589C2073.4 589.3 2075.6 588.6 2077.8 588.8C2080 589 2082.2 590 2084.4 590.1C2086.6 590.2 2088.8 590.3 2091 589.6C2093.2 588.9 2095.5 586.8 2097.7 586C2099.9 585.2 2102.2 585.2 2104.4 585C2106.6 584.7 2108.9 584.8 2111.1 584.5C2113.3 584.2 2115.6 583.3 2117.8 583.4C2120 583.4 2122.3 584.7 2124.5 584.9C2126.7 585.2 2129 585 2131.2 584.8C2133.4 584.7 2135.7 585 2137.9 584.2C2140.1 583.5 2142.4 580.8 2144.6 580.5C2146.8 580.2 2149.1 582.7 2151.3 582.5C2153.5 582.3 2155.8 579.6 2158 579.1C2160.2 578.7 2162.4 579.5 2164.6 579.9C2166.8 580.4 2169 581.8 2171.2 581.7C2173.4 581.5 2175.6 579.4 2177.8 579C2180 578.6 2182.2 578.7 2184.4 579.3C2186.6 580 2188.8 582.8 2191 583C2193.2 583.3 2195.4 581.1 2197.6 580.8C2199.8 580.6 2202 581.1 2204.2 581.4C2206.4 581.8 2208.6 582.4 2210.8 582.8C2213 583.1 2215.2 583.8 2217.4 583.5C2219.6 583.2 2221.8 580.9 2224 580.7C2226.2 580.6 2228.4 582 2230.6 582.4C2232.8 582.8 2235 582.9 2237.2 583.1C2239.4 583.3 2241.5 583.6 2243.7 583.5C2245.9 583.4 2248.1 582.3 2250.3 582.5C2252.5 582.6 2254.7 583.8 2256.9 584.4C2259.1 585 2261.3 586.4 2263.5 586.3C2265.7 586.2 2267.9 584.1 2270.1 583.9C2272.3 583.6 2274.4 584.9 2276.6 584.8C2278.8 584.7 2281 583.2 2283.2 583C2285.4 582.9 2288.7 583.8 2289.8 584" fill="none" stroke="#000" stroke-width="6.0" stroke-linecap="round" stroke-linejoin="round"/>
<path d="M301.2 316.4L313.7 338.4H288.7Z" fill="#fff" stroke="#000" stroke-width="2.8" stroke-linejoin="miter"/><rect x="299.2" y="329.8" width="3.8" height="2.5"/>
<path d="M367.5 316.4L380 338.4H355Z" fill="#fff" stroke="#000" stroke-width="2.8" stroke-linejoin="miter"/><rect x="365.5" y="329.8" width="3.8" height="2.5"/>
<path d="M433.8 316.4L446.3 338.4H421.3Z" fill="#fff" stroke="#000" stroke-width="2.8" stroke-linejoin="miter"/><rect x="431.8" y="329.8" width="3.8" height="2.5"/>
<path d="M500.1 316.4L512.6 338.4H487.6Z" fill="#fff" stroke="#000" stroke-width="2.8" stroke-linejoin="miter"/><rect x="498.1" y="329.8" width="3.8" height="2.5"/>
<path d="M566.3 316.4L578.8 338.4H553.8Z" fill="#fff" stroke="#000" stroke-width="2.8" stroke-linejoin="miter"/><rect x="564.3" y="329.8" width="3.8" height="2.5"/>
<path d="M631.2 350.1L643.7 372.1H618.7Z" fill="#fff" stroke="#000" stroke-width="2.8" stroke-linejoin="miter"/><rect x="629.2" y="363.5" width="3.8" height="2.5"/>
<path d="M697 769.4L709.5 791.4H684.5Z" fill="#fff" stroke="#000" stroke-width="2.8" stroke-linejoin="miter"/><rect x="695" y="782.8" width="3.8" height="2.5"/>
<path d="M764.3 1219.9L776.8 1241.9H751.8Z" fill="#fff" stroke="#000" stroke-width="2.8" stroke-linejoin="miter"/><rect x="762.3" y="1233.3" width="3.8" height="2.5"/>
<path d="M830.5 1053.4L843 1075.4H818Z" fill="#fff" stroke="#000" stroke-width="2.8" stroke-linejoin="miter"/><rect x="828.5" y="1066.8" width="3.8" height="2.5"/>
<path d="M896.7 531.4L909.2 553.4H884.2Z" fill="#fff" stroke="#000" stroke-width="2.8" stroke-linejoin="miter"/><rect x="894.7" y="544.8" width="3.8" height="2.5"/>
<path d="M963.2 422.9L975.7 444.9H950.7Z" fill="#fff" stroke="#000" stroke-width="2.8" stroke-linejoin="miter"/><rect x="961.2" y="436.3" width="3.8" height="2.5"/>
<path d="M1029.4 504.7L1041.9 526.7H1016.9Z" fill="#fff" stroke="#000" stroke-width="2.8" stroke-linejoin="miter"/><rect x="1027.4" y="518.1" width="3.8" height="2.5"/>
<path d="M1096 640.4L1108.5 662.4H1083.5Z" fill="#fff" stroke="#000" stroke-width="2.8" stroke-linejoin="miter"/><rect x="1094" y="653.8" width="3.8" height="2.5"/>
<path d="M1162 657L1174.5 679H1149.5Z" fill="#fff" stroke="#000" stroke-width="2.8" stroke-linejoin="miter"/><rect x="1160" y="670.4" width="3.8" height="2.5"/>
<path d="M1229 557.4L1241.5 579.4H1216.5Z" fill="#fff" stroke="#000" stroke-width="2.8" stroke-linejoin="miter"/><rect x="1227" y="570.8" width="3.8" height="2.5"/>
<path d="M1294 540.4L1306.5 562.4H1281.5Z" fill="#fff" stroke="#000" stroke-width="2.8" stroke-linejoin="miter"/><rect x="1292" y="553.8" width="3.8" height="2.5"/>
<path d="M1360 573.4L1372.5 595.4H1347.5Z" fill="#fff" stroke="#000" stroke-width="2.8" stroke-linejoin="miter"/><rect x="1358" y="586.8" width="3.8" height="2.5"/>
<path d="M1427 578.9L1439.5 600.9H1414.5Z" fill="#fff" stroke="#000" stroke-width="2.8" stroke-linejoin="miter"/><rect x="1425" y="592.3" width="3.8" height="2.5"/>
<path d="M1494 564L1506.5 586H1481.5Z" fill="#fff" stroke="#000" stroke-width="2.8" stroke-linejoin="miter"/><rect x="1492" y="577.4" width="3.8" height="2.5"/>
<path d="M1560 561.4L1572.5 583.4H1547.5Z" fill="#fff" stroke="#000" stroke-width="2.8" stroke-linejoin="miter"/><rect x="1558" y="574.8" width="3.8" height="2.5"/>
<path d="M1626.8 571.4L1639.3 593.4H1614.3Z" fill="#fff" stroke="#000" stroke-width="2.8" stroke-linejoin="miter"/><rect x="1624.8" y="584.8" width="3.8" height="2.5"/>
<path d="M1693 571.4L1705.5 593.4H1680.5Z" fill="#fff" stroke="#000" stroke-width="2.8" stroke-linejoin="miter"/><rect x="1691" y="584.8" width="3.8" height="2.5"/>
<path d="M1758.7 572.1L1771.2 594.1H1746.2Z" fill="#fff" stroke="#000" stroke-width="2.8" stroke-linejoin="miter"/><rect x="1756.7" y="585.5" width="3.8" height="2.5"/>
<path d="M1825.6 565.4L1838.1 587.4H1813.1Z" fill="#fff" stroke="#000" stroke-width="2.8" stroke-linejoin="miter"/><rect x="1823.6" y="578.8" width="3.8" height="2.5"/>
<path d="M1892.6 570.4L1905.1 592.4H1880.1Z" fill="#fff" stroke="#000" stroke-width="2.8" stroke-linejoin="miter"/><rect x="1890.6" y="583.8" width="3.8" height="2.5"/>
<path d="M1958 569.4L1970.5 591.4H1945.5Z" fill="#fff" stroke="#000" stroke-width="2.8" stroke-linejoin="miter"/><rect x="1956" y="582.8" width="3.8" height="2.5"/>
<path d="M2024 573.4L2036.5 595.4H2011.5Z" fill="#fff" stroke="#000" stroke-width="2.8" stroke-linejoin="miter"/><rect x="2022" y="586.8" width="3.8" height="2.5"/>
<path d="M2090.5 573.4L2103 595.4H2078Z" fill="#fff" stroke="#000" stroke-width="2.8" stroke-linejoin="miter"/><rect x="2088.5" y="586.8" width="3.8" height="2.5"/>
<path d="M2157 565.4L2169.5 587.4H2144.5Z" fill="#fff" stroke="#000" stroke-width="2.8" stroke-linejoin="miter"/><rect x="2155" y="578.8" width="3.8" height="2.5"/>
<path d="M2223 568.4L2235.5 590.4H2210.5Z" fill="#fff" stroke="#000" stroke-width="2.8" stroke-linejoin="miter"/><rect x="2221" y="581.8" width="3.8" height="2.5"/>
<path d="M2289 570.4L2301.5 592.4H2276.5Z" fill="#fff" stroke="#000" stroke-width="2.8" stroke-linejoin="miter"/><rect x="2287" y="583.8" width="3.8" height="2.5"/>
</g>
<clipPath id="cb"><rect x="304.0" y="2389.4" width="2008.9" height="1789.6"/></clipPath><g clip-path="url(#cb)">
<g fill="none" stroke="#000" stroke-linecap="round" stroke-linejoin="round">
<path d="M674.8 2753.7C675.7 2752.8 678 2749.4 680 2748C682 2746.6 684.5 2745.6 686.8 2745.6C689 2745.6 691.5 2746.6 693.5 2748C695.5 2749.4 698.1 2752.8 699 2753.7M728.9 2780.8L737.7 2805.2M745.6 2840.2L750.8 2864.6M758.6 2899.8L765.6 2924.2M773.2 2959.2L781.6 2985.2M792 3020.5L797.2 3044.9M805 3079.8L812.1 3104.2M819.8 3139.5L823.9 3163.9M830.5 3199.1L835.7 3223.5M845.2 3258.6L850.5 3283M859.2 3317.8L864.7 3342.2M875.2 3377.6L880.8 3403.8M891.8 3436.8L898.1 3463.2M904.8 3498.4L911.8 3524.7M920.8 3557.8L928.6 3584.2M941 3617.3L950.7 3643.6M968 3678.7C968.9 3681.1 970.8 3688.9 973.5 3693C976.2 3697.1 982.2 3701.7 983.9 3703.4M1002.3 3738.2L1013.7 3762.9M1025.7 3797.7L1035.5 3822.3M1046 3857.3L1052.8 3885.2M1064.7 3916.8L1073.4 3941.2M1083.3 3976.2L1095.7 4002.3M1119 4033.3C1120.2 4033.7 1123.7 4035.4 1126 4036C1128.3 4036.6 1130.5 4037 1133 4036.8C1135.5 4036.6 1138.6 4035.9 1141 4035C1143.4 4034.1 1146.3 4032 1147.3 4031.4M1172.5 4000.9L1192.1 3974.2M1211.6 3935.9L1234.8 3916.5M1267.8 3900.5C1270 3901 1276.6 3901.2 1281 3903C1285.4 3904.8 1291.9 3909.7 1294.1 3911.1M1330.6 3947.5L1348.1 3963.1M1386.7 3973.9C1388.9 3973.6 1395.9 3973.1 1400 3972C1404.1 3970.9 1409.4 3968.1 1411.3 3967.3M1457.3 3946.6L1472.2 3943.2" stroke-width="7.8"/>
<path d="M305.4 3948.5C316.2 3911.8 348 3801.3 370 3728C392 3654.7 414.9 3582.2 437.2 3508.7C459.5 3435.2 481.6 3360.2 503.8 3286.8C526 3213.4 554.5 3121.2 570.6 3068C586.7 3014.8 589.2 3003.6 600.4 2967.7C611.5 2931.8 630.7 2873.5 637.5 2852.4C644.3 2831.3 639.2 2846.7 641 2841C642.8 2835.3 645.5 2825.4 648 2818C650.5 2810.6 653.3 2802.4 656 2796.7C658.7 2791 661.5 2787.4 664 2784C666.5 2780.6 668.3 2778.2 671 2776C673.7 2773.8 677.2 2771.7 680 2770.5C682.8 2769.3 685 2768.7 687.7 2768.8C690.4 2768.9 693.2 2769.8 696 2771C698.8 2772.2 701.2 2772.3 704.5 2776C707.8 2779.7 711.9 2785.2 715.6 2793C719.3 2800.8 723.1 2810.4 726.8 2822.7C730.5 2835 733.7 2847.8 738 2867C742.3 2886.2 747.8 2916.3 752.8 2938C757.8 2959.7 763.4 2977.8 767.7 2997C772 3016.2 774.3 3031.2 778.8 3053C783.3 3074.8 791.2 3111.3 794.5 3127.5C797.8 3143.7 795.6 3133.9 798.8 3150C802 3166.1 808.7 3199.2 813.6 3224C818.5 3248.8 823.5 3272.6 828.4 3298.7C833.3 3324.8 837.1 3352.6 843.3 3380.5C849.5 3408.4 859.4 3442.5 865.6 3466C871.8 3489.5 876.4 3503.1 880.5 3521.7C884.6 3540.3 888.1 3564.4 890.5 3577.5C892.9 3590.6 892.4 3586.9 895 3600C897.6 3613.1 902.6 3637.2 906.4 3655.8C910.1 3674.4 913.8 3693 917.5 3711.5C921.2 3730 925 3748.4 928.7 3767C932.4 3785.6 936.2 3804.4 939.9 3823C943.6 3841.6 947.3 3861.5 951 3878.8C954.7 3896.1 958.3 3911.5 962 3927C965.7 3942.5 969.5 3958.7 973.3 3971.7C977 3984.7 980.8 3995.7 984.5 4005C988.2 4014.3 991.3 4020.3 995.6 4027.5C999.9 4034.7 1005.5 4043.3 1010.5 4048C1015.5 4052.7 1020.5 4055.1 1025.4 4055.4C1030.3 4055.7 1035.1 4053.2 1040 4049.8C1044.9 4046.4 1050 4040.6 1055 4035C1060 4029.4 1064.4 4023.5 1070 4016C1075.6 4008.5 1083 3998.7 1088.6 3990C1094.2 3981.3 1098.5 3972.7 1103.4 3964C1108.4 3955.3 1113.4 3946 1118.3 3938C1123.2 3930 1128 3922.8 1133 3916C1138 3909.2 1143 3902 1148 3897C1153 3892 1158.7 3888.7 1163 3886C1167.3 3883.3 1169.7 3881.3 1174 3880.7C1178.3 3880.1 1184 3880.9 1189 3882.5C1194 3884.1 1198.8 3886.6 1203.8 3890C1208.8 3893.4 1213.8 3898.1 1218.7 3903C1223.7 3907.9 1228.5 3913.5 1233.5 3919.7C1238.5 3925.9 1243.4 3933.8 1248.4 3940C1253.4 3946.2 1258.4 3951.7 1263.3 3957C1268.2 3962.3 1274.3 3968.1 1278 3971.7C1281.7 3975.3 1282.4 3976.3 1285.5 3978.4C1288.6 3980.5 1292.4 3983.4 1296.7 3984C1301 3984.6 1306 3983.8 1311.5 3982C1317 3980.2 1323.8 3976.7 1330 3973C1336.2 3969.3 1342.5 3964 1348.7 3959.9C1354.9 3955.8 1360.8 3951.5 1367 3948.7C1373.2 3945.9 1379.1 3943.9 1385.9 3943C1392.7 3942.1 1400.6 3942.4 1408 3943C1415.4 3943.6 1421.8 3945.5 1430.5 3946.8C1439.2 3948.1 1448.9 3949.7 1460 3950.6C1471.1 3951.5 1478.4 3952.4 1497 3952.4C1515.6 3952.4 1538.2 3950.7 1571.7 3950.6C1605.2 3950.5 1574.5 3951.8 1698 3952C1821.5 3952.2 2210.4 3951.6 2312.9 3951.5" stroke-width="8.8"/>
</g>
<path d="M305.4 3948.5C316.2 3911.8 348 3801.3 370 3728C392 3654.7 414.9 3582.2 437.2 3508.7C459.5 3435.2 481.6 3360.2 503.8 3286.8C526 3213.4 554.5 3121.2 570.6 3068C586.7 3014.8 589.2 3003.6 600.4 2967.7C611.5 2931.8 630.1 2874.8 637.5 2852.4C644.9 2830 642.6 2838.7 645 2833C647.4 2827.3 649.8 2821.7 652 2818C654.2 2814.3 655.3 2812.3 658 2811C660.7 2809.7 664.6 2809.7 668 2810C671.4 2810.3 674.7 2812.3 678.4 2813C682.1 2813.7 685.6 2814.1 690 2814C694.4 2813.9 700.7 2811.3 704.5 2812.6C708.3 2813.9 709.5 2816 713 2822C716.5 2828 721.9 2838 725.5 2848.7C729.1 2859.4 731.3 2871.1 734.5 2886C737.7 2900.9 740.5 2920.7 744.5 2938C748.5 2955.3 753.8 2974.3 758.5 2990C763.2 3005.7 768.5 3015.3 772.5 3032C776.5 3048.7 779.4 3070.3 782.5 3090C785.6 3109.7 788 3127.6 791.3 3150C794.6 3172.4 798.7 3196.5 802.4 3224.3C806.1 3252.1 809.9 3286.1 813.6 3317C817.3 3347.9 821 3375.9 824.7 3410C828.4 3444.1 833.5 3500 835.9 3521.7C838.2 3543.4 837.3 3527.2 838.8 3540.3C840.3 3553.4 842.4 3577.7 845 3600C847.6 3622.3 850.9 3646.2 854.3 3674C857.7 3701.8 861.8 3739.1 865.5 3767C869.2 3794.9 872.4 3814.9 876.7 3841.6C881 3868.3 887.5 3904.1 891.5 3927C895.5 3949.9 898.3 3966.1 900.8 3979C903.3 3991.9 904.2 3994.6 906.4 4004.5C908.6 4014.4 910.7 4028.7 913.8 4038.7C916.9 4048.7 921.3 4057.9 925 4064.7C928.7 4071.5 932.6 4076.5 936 4079.6C939.4 4082.7 942.3 4083.3 945.4 4083C948.5 4082.7 950.1 4082.3 954.7 4077.7C959.4 4073.1 967.7 4063.8 973.3 4055.4C978.9 4047 983.2 4037.7 988.2 4027.5C993.2 4017.3 997.4 4006.4 1003 3994C1008.6 3981.6 1015.6 3966.2 1021.6 3953C1027.6 3939.8 1033.4 3926.2 1039 3914.5C1044.6 3902.8 1049.8 3891.6 1055 3882.5C1060.2 3873.4 1065 3866.8 1070 3860C1075 3853.2 1078.7 3846.7 1084.8 3841.6C1090.9 3836.5 1100.2 3831.6 1106.4 3829.4C1112.6 3827.2 1116.9 3827.2 1122 3828.6C1127.1 3830 1132 3834 1136.9 3838C1141.9 3842 1145.5 3845.7 1151.7 3852.8C1157.9 3859.9 1167.8 3871.4 1174 3880.7C1180.2 3890 1184 3899 1189 3908.6C1194 3918.2 1198.8 3928.8 1203.8 3938C1208.8 3947.2 1212.5 3955.9 1218.7 3964C1224.9 3972.1 1234.8 3981.1 1241 3986.6C1247.2 3992.1 1250.3 3995.6 1255.8 3997C1261.3 3998.4 1267.8 3996.8 1274 3995C1280.2 3993.2 1287.4 3988.8 1293 3985.9C1298.6 3983 1302.2 3981.4 1307.8 3977.7C1313.4 3974 1319.6 3969.4 1326.4 3963.6C1333.2 3957.8 1342.5 3948 1348.7 3943C1354.9 3938 1359.3 3936.3 1363.6 3933.8C1367.9 3931.3 1369.8 3929 1374.7 3928C1379.6 3927 1386.2 3927.3 1393 3928C1399.8 3928.7 1407.4 3929.9 1415.6 3932C1423.8 3934.1 1433.3 3937.1 1442 3940.5C1450.7 3943.9 1459.7 3949.2 1467.7 3952.4C1475.7 3955.6 1483.2 3958 1490 3959.9C1496.8 3961.8 1501.2 3963.9 1508.6 3963.6C1516 3963.3 1523.4 3959.9 1534.6 3958C1545.8 3956.1 1557.5 3953.2 1575.5 3952C1593.5 3950.8 1519.5 3951 1642.4 3951C1765.3 3951 2201.2 3951.8 2312.9 3952" fill="none" stroke="#000" stroke-width="6.4" stroke-linecap="round" stroke-linejoin="round"/>
<circle cx="370" cy="3728" r="10.15" fill="#fff" stroke="#000" stroke-width="2.8"/><rect x="368" y="3726.7" width="3.8" height="2.5"/>
<circle cx="437.2" cy="3508.7" r="10.15" fill="#fff" stroke="#000" stroke-width="2.8"/><rect x="435.2" y="3507.4" width="3.8" height="2.5"/>
<circle cx="503.8" cy="3286.8" r="10.15" fill="#fff" stroke="#000" stroke-width="2.8"/><rect x="501.8" y="3285.5" width="3.8" height="2.5"/>
<circle cx="570.6" cy="3068" r="10.15" fill="#fff" stroke="#000" stroke-width="2.8"/><rect x="568.6" y="3066.7" width="3.8" height="2.5"/>
<circle cx="637.5" cy="2852.4" r="10.15" fill="#fff" stroke="#000" stroke-width="2.8"/><rect x="635.5" y="2851.1" width="3.8" height="2.5"/>
<circle cx="704.5" cy="2812.6" r="10.15" fill="#fff" stroke="#000" stroke-width="2.8"/><rect x="702.5" y="2811.3" width="3.8" height="2.5"/>
<circle cx="772.5" cy="3032" r="10.15" fill="#fff" stroke="#000" stroke-width="2.8"/><rect x="770.5" y="3030.7" width="3.8" height="2.5"/>
<circle cx="838.8" cy="3540.3" r="10.15" fill="#fff" stroke="#000" stroke-width="2.8"/><rect x="836.8" y="3539" width="3.8" height="2.5"/>
<circle cx="906.4" cy="4004.5" r="10.15" fill="#fff" stroke="#000" stroke-width="2.8"/><rect x="904.4" y="4003.2" width="3.8" height="2.5"/>
<circle cx="973.3" cy="4055.4" r="10.15" fill="#fff" stroke="#000" stroke-width="2.8"/><rect x="971.3" y="4054.1" width="3.8" height="2.5"/>
<circle cx="1039" cy="3914.5" r="10.15" fill="#fff" stroke="#000" stroke-width="2.8"/><rect x="1037" y="3913.2" width="3.8" height="2.5"/>
<circle cx="1106.4" cy="3829.4" r="10.15" fill="#fff" stroke="#000" stroke-width="2.8"/><rect x="1104.4" y="3828.1" width="3.8" height="2.5"/>
<circle cx="1174" cy="3880.7" r="10.15" fill="#fff" stroke="#000" stroke-width="2.8"/><rect x="1172" y="3879.4" width="3.8" height="2.5"/>
<circle cx="1240" cy="3987.7" r="10.15" fill="#fff" stroke="#000" stroke-width="2.8"/><rect x="1238" y="3986.4" width="3.8" height="2.5"/>
<circle cx="1307.8" cy="3977.7" r="10.15" fill="#fff" stroke="#000" stroke-width="2.8"/><rect x="1305.8" y="3976.4" width="3.8" height="2.5"/>
<circle cx="1374.7" cy="3928" r="10.15" fill="#fff" stroke="#000" stroke-width="2.8"/><rect x="1372.7" y="3926.7" width="3.8" height="2.5"/>
<circle cx="1442" cy="3940.5" r="10.15" fill="#fff" stroke="#000" stroke-width="2.8"/><rect x="1440" y="3939.2" width="3.8" height="2.5"/>
<circle cx="1508.6" cy="3963.6" r="10.15" fill="#fff" stroke="#000" stroke-width="2.8"/><rect x="1506.6" y="3962.3" width="3.8" height="2.5"/>
<circle cx="1575.5" cy="3952" r="10.15" fill="#fff" stroke="#000" stroke-width="2.8"/><rect x="1573.5" y="3950.7" width="3.8" height="2.5"/>
<circle cx="1642.4" cy="3950" r="10.15" fill="#fff" stroke="#000" stroke-width="2.8"/><rect x="1640.4" y="3948.7" width="3.8" height="2.5"/>
<circle cx="1710.2" cy="3953" r="10.15" fill="#fff" stroke="#000" stroke-width="2.8"/><rect x="1708.2" y="3951.7" width="3.8" height="2.5"/>
<circle cx="1777.2" cy="3953" r="10.15" fill="#fff" stroke="#000" stroke-width="2.8"/><rect x="1775.2" y="3951.7" width="3.8" height="2.5"/>
<circle cx="1844.2" cy="3953" r="10.15" fill="#fff" stroke="#000" stroke-width="2.8"/><rect x="1842.2" y="3951.7" width="3.8" height="2.5"/>
<circle cx="1911.1" cy="3953" r="10.15" fill="#fff" stroke="#000" stroke-width="2.8"/><rect x="1909.1" y="3951.7" width="3.8" height="2.5"/>
<circle cx="1978.1" cy="3953" r="10.15" fill="#fff" stroke="#000" stroke-width="2.8"/><rect x="1976.1" y="3951.7" width="3.8" height="2.5"/>
<circle cx="2045.1" cy="3953" r="10.15" fill="#fff" stroke="#000" stroke-width="2.8"/><rect x="2043.1" y="3951.7" width="3.8" height="2.5"/>
<circle cx="2112" cy="3953" r="10.15" fill="#fff" stroke="#000" stroke-width="2.8"/><rect x="2110" y="3951.7" width="3.8" height="2.5"/>
<circle cx="2179" cy="3953" r="10.15" fill="#fff" stroke="#000" stroke-width="2.8"/><rect x="2177" y="3951.7" width="3.8" height="2.5"/>
<circle cx="2245.9" cy="3953" r="10.15" fill="#fff" stroke="#000" stroke-width="2.8"/><rect x="2243.9" y="3951.7" width="3.8" height="2.5"/>
<circle cx="2312.9" cy="3953" r="10.15" fill="#fff" stroke="#000" stroke-width="2.8"/><rect x="2310.9" y="3951.7" width="3.8" height="2.5"/>
<path d="M305.4 3948.5C316.2 3911.8 348 3801.3 370 3728C392 3654.7 414.9 3582.2 437.2 3508.7C459.5 3435.2 481.6 3360.2 503.8 3286.8C526 3213.4 554.5 3121.2 570.6 3068C586.7 3014.8 589.2 3003.6 600.4 2967.7C611.5 2931.8 629.6 2875.7 637.5 2852.4C645.4 2829.1 644.9 2834.1 648 2828C651.1 2821.9 653.4 2818.8 656 2816C658.6 2813.2 660.9 2811.3 663.6 2811.5C666.3 2811.7 668.4 2812.9 672 2817C675.6 2821.1 679.6 2827.8 685 2836C690.4 2844.2 700 2854 704.5 2866C709 2878 708.9 2892.3 712 2908C715.1 2923.7 718.7 2938.9 723 2960C727.3 2981.1 733 3008.6 738 3034.6C743 3060.6 749.5 3096.8 752.8 3116C756.1 3135.2 755.7 3131.9 757.8 3150C759.9 3168.1 762.8 3202.8 765.2 3224.3C767.6 3245.8 769.8 3260.4 772 3279C774.2 3297.6 775.7 3307.8 778.3 3335.9C780.9 3364 784.1 3413.4 787.5 3447.4C790.9 3481.4 795.6 3514.6 798.7 3540C801.8 3565.4 803.8 3582 806 3600C808.2 3618 809.2 3626.3 811.7 3648C814.2 3669.7 817.5 3703.9 820.9 3730C824.3 3756.1 829 3783.1 832 3804.5C835 3825.9 836.2 3839.8 838.7 3858.4C841.2 3877 843.8 3898.4 847 3916C850.2 3933.6 853.7 3949.2 858 3964C862.3 3978.8 867.4 3993.2 873 4005C878.6 4016.8 886 4028.9 891.5 4035C897 4041.1 900.7 4042.8 905.7 4041.6C910.7 4040.3 915.6 4034.2 921.3 4027.5C927 4020.8 933.7 4010.8 939.9 4001.5C946.1 3992.2 952.9 3980.4 958.4 3971.7C963.9 3963 967.6 3957.4 972.6 3949.4C977.6 3941.4 982.5 3933.3 988.2 3923.4C993.9 3913.5 1001.2 3899.9 1006.8 3890C1012.4 3880.1 1016 3870.7 1021.6 3864C1027.2 3857.3 1034.6 3854.1 1040.2 3849.8C1045.8 3845.5 1050 3840.3 1055 3838C1060 3835.7 1065 3835.4 1070 3836C1075 3836.6 1078.7 3838 1084.8 3841.6C1090.9 3845.2 1100.2 3851.4 1106.4 3857.6C1112.6 3863.8 1116.9 3871.6 1122 3878.8C1127.1 3886 1131.3 3893 1136.9 3901C1142.5 3909 1149.4 3920.5 1155.5 3927C1161.6 3933.5 1167.7 3935 1173.3 3940C1178.9 3945 1183.3 3952.2 1189 3956.9C1194.7 3961.6 1201.3 3965.2 1207.5 3968C1213.7 3970.8 1220.4 3972.8 1226 3973.6C1231.6 3974.4 1236 3973.3 1241 3972.9C1246 3972.5 1250.3 3972.6 1255.8 3971C1261.3 3969.4 1267.8 3966.7 1274 3963.6C1280.2 3960.5 1287.4 3955.2 1293 3952.4C1298.6 3949.6 1301.6 3949 1307.8 3946.8C1314 3944.6 1322 3941.2 1330 3939.4C1338 3937.6 1348.5 3936.3 1356 3935.7C1363.5 3935.1 1367.2 3935.1 1374.7 3935.7C1382.2 3936.3 1392.7 3937.8 1400.7 3939.4C1408.8 3941 1416.2 3943.1 1423 3945C1429.8 3946.9 1432.9 3949 1441.6 3950.6C1450.3 3952.2 1463.8 3953.7 1475 3954.3C1486.2 3954.9 1498.7 3954.6 1508.6 3954.3C1518.5 3954 1523.4 3953.3 1534.6 3952.4C1545.8 3951.5 1557.5 3949.6 1575.5 3949C1593.5 3948.4 1519.5 3948.8 1642.4 3949C1765.3 3949.2 2201.2 3949.8 2312.9 3950" fill="none" stroke="#000" stroke-width="6.4" stroke-linecap="round" stroke-linejoin="round"/>
<path d="M305.4 3933.9L317.9 3955.9H292.9Z" fill="#fff" stroke="#000" stroke-width="2.8" stroke-linejoin="miter"/><rect x="303.4" y="3947.3" width="3.8" height="2.5"/>
<path d="M370 3713.4L382.5 3735.4H357.5Z" fill="#fff" stroke="#000" stroke-width="2.8" stroke-linejoin="miter"/><rect x="368" y="3726.8" width="3.8" height="2.5"/>
<path d="M437.2 3494.1L449.7 3516.1H424.7Z" fill="#fff" stroke="#000" stroke-width="2.8" stroke-linejoin="miter"/><rect x="435.2" y="3507.5" width="3.8" height="2.5"/>
<path d="M503.8 3272.2L516.3 3294.2H491.3Z" fill="#fff" stroke="#000" stroke-width="2.8" stroke-linejoin="miter"/><rect x="501.8" y="3285.6" width="3.8" height="2.5"/>
<path d="M570.6 3053.4L583.1 3075.4H558.1Z" fill="#fff" stroke="#000" stroke-width="2.8" stroke-linejoin="miter"/><rect x="568.6" y="3066.8" width="3.8" height="2.5"/>
<path d="M637.5 2837.8L650 2859.8H625Z" fill="#fff" stroke="#000" stroke-width="2.8" stroke-linejoin="miter"/><rect x="635.5" y="2851.2" width="3.8" height="2.5"/>
<path d="M704.5 2851.4L717 2873.4H692Z" fill="#fff" stroke="#000" stroke-width="2.8" stroke-linejoin="miter"/><rect x="702.5" y="2864.8" width="3.8" height="2.5"/>
<path d="M772 3264.4L784.5 3286.4H759.5Z" fill="#fff" stroke="#000" stroke-width="2.8" stroke-linejoin="miter"/><rect x="770" y="3277.8" width="3.8" height="2.5"/>
<path d="M838.7 3843.8L851.2 3865.8H826.2Z" fill="#fff" stroke="#000" stroke-width="2.8" stroke-linejoin="miter"/><rect x="836.7" y="3857.2" width="3.8" height="2.5"/>
<path d="M905.7 4027L918.2 4049H893.2Z" fill="#fff" stroke="#000" stroke-width="2.8" stroke-linejoin="miter"/><rect x="903.7" y="4040.4" width="3.8" height="2.5"/>
<path d="M972.6 3934.8L985.1 3956.8H960.1Z" fill="#fff" stroke="#000" stroke-width="2.8" stroke-linejoin="miter"/><rect x="970.6" y="3948.2" width="3.8" height="2.5"/>
<path d="M1040.2 3835.2L1052.7 3857.2H1027.7Z" fill="#fff" stroke="#000" stroke-width="2.8" stroke-linejoin="miter"/><rect x="1038.2" y="3848.6" width="3.8" height="2.5"/>
<path d="M1106.4 3843L1118.9 3865H1093.9Z" fill="#fff" stroke="#000" stroke-width="2.8" stroke-linejoin="miter"/><rect x="1104.4" y="3856.4" width="3.8" height="2.5"/>
<path d="M1173.3 3925.4L1185.8 3947.4H1160.8Z" fill="#fff" stroke="#000" stroke-width="2.8" stroke-linejoin="miter"/><rect x="1171.3" y="3938.8" width="3.8" height="2.5"/>
<path d="M1241 3958.3L1253.5 3980.3H1228.5Z" fill="#fff" stroke="#000" stroke-width="2.8" stroke-linejoin="miter"/><rect x="1239" y="3971.7" width="3.8" height="2.5"/>
<path d="M1307.8 3932.2L1320.3 3954.2H1295.3Z" fill="#fff" stroke="#000" stroke-width="2.8" stroke-linejoin="miter"/><rect x="1305.8" y="3945.6" width="3.8" height="2.5"/>
<path d="M1374.7 3921.1L1387.2 3943.1H1362.2Z" fill="#fff" stroke="#000" stroke-width="2.8" stroke-linejoin="miter"/><rect x="1372.7" y="3934.5" width="3.8" height="2.5"/>
<path d="M1441.6 3936L1454.1 3958H1429.1Z" fill="#fff" stroke="#000" stroke-width="2.8" stroke-linejoin="miter"/><rect x="1439.6" y="3949.4" width="3.8" height="2.5"/>
<path d="M1508.6 3939.7L1521.1 3961.7H1496.1Z" fill="#fff" stroke="#000" stroke-width="2.8" stroke-linejoin="miter"/><rect x="1506.6" y="3953.1" width="3.8" height="2.5"/>
<path d="M1575.5 3934.1L1588 3956.1H1563Z" fill="#fff" stroke="#000" stroke-width="2.8" stroke-linejoin="miter"/><rect x="1573.5" y="3947.5" width="3.8" height="2.5"/>
<path d="M1642.4 3934.1L1654.9 3956.1H1629.9Z" fill="#fff" stroke="#000" stroke-width="2.8" stroke-linejoin="miter"/><rect x="1640.4" y="3947.5" width="3.8" height="2.5"/>
<path d="M1710.2 3934.4L1722.7 3956.4H1697.7Z" fill="#fff" stroke="#000" stroke-width="2.8" stroke-linejoin="miter"/><rect x="1708.2" y="3947.8" width="3.8" height="2.5"/>
<path d="M1777.2 3934.4L1789.7 3956.4H1764.7Z" fill="#fff" stroke="#000" stroke-width="2.8" stroke-linejoin="miter"/><rect x="1775.2" y="3947.8" width="3.8" height="2.5"/>
<path d="M1844.2 3934.4L1856.7 3956.4H1831.7Z" fill="#fff" stroke="#000" stroke-width="2.8" stroke-linejoin="miter"/><rect x="1842.2" y="3947.8" width="3.8" height="2.5"/>
<path d="M1911.1 3934.4L1923.6 3956.4H1898.6Z" fill="#fff" stroke="#000" stroke-width="2.8" stroke-linejoin="miter"/><rect x="1909.1" y="3947.8" width="3.8" height="2.5"/>
<path d="M1978.1 3934.4L1990.6 3956.4H1965.6Z" fill="#fff" stroke="#000" stroke-width="2.8" stroke-linejoin="miter"/><rect x="1976.1" y="3947.8" width="3.8" height="2.5"/>
<path d="M2045.1 3931.4L2057.6 3953.4H2032.6Z" fill="#fff" stroke="#000" stroke-width="2.8" stroke-linejoin="miter"/><rect x="2043.1" y="3944.8" width="3.8" height="2.5"/>
<path d="M2112 3934.4L2124.5 3956.4H2099.5Z" fill="#fff" stroke="#000" stroke-width="2.8" stroke-linejoin="miter"/><rect x="2110" y="3947.8" width="3.8" height="2.5"/>
<path d="M2179 3934.4L2191.5 3956.4H2166.5Z" fill="#fff" stroke="#000" stroke-width="2.8" stroke-linejoin="miter"/><rect x="2177" y="3947.8" width="3.8" height="2.5"/>
<path d="M2245.9 3934.4L2258.4 3956.4H2233.4Z" fill="#fff" stroke="#000" stroke-width="2.8" stroke-linejoin="miter"/><rect x="2243.9" y="3947.8" width="3.8" height="2.5"/>
<path d="M2312.9 3934.4L2325.4 3956.4H2300.4Z" fill="#fff" stroke="#000" stroke-width="2.8" stroke-linejoin="miter"/><rect x="2310.9" y="3947.8" width="3.8" height="2.5"/>
</g>
<rect x="297.25" y="75.10" width="1996.55" height="8.0"/>
<rect x="297.25" y="1844.95" width="1996.55" height="8.9"/>
<rect x="297.25" y="75.10" width="7.9" height="1778.75"/>
<rect x="2285.80" y="75.10" width="8.0" height="1778.75"/>
<rect x="297.25" y="1849.80" width="7.9" height="38.20" rx="2.6"/>
<rect x="694.97" y="1849.80" width="7.9" height="38.20" rx="2.6"/>
<rect x="694.97" y="79.10" width="7.9" height="38.20" rx="2.6"/>
<rect x="1092.69" y="1849.80" width="7.9" height="38.20" rx="2.6"/>
<rect x="1092.69" y="79.10" width="7.9" height="38.20" rx="2.6"/>
<rect x="1490.41" y="1849.80" width="7.9" height="38.20" rx="2.6"/>
<rect x="1490.41" y="79.10" width="7.9" height="38.20" rx="2.6"/>
<rect x="1888.13" y="1849.80" width="7.9" height="38.20" rx="2.6"/>
<rect x="1888.13" y="79.10" width="7.9" height="38.20" rx="2.6"/>
<rect x="2285.85" y="1849.80" width="7.9" height="38.20" rx="2.6"/>
<rect x="496.11" y="1849.80" width="7.9" height="20.00" rx="2.6"/>
<rect x="496.11" y="79.10" width="7.9" height="20.00" rx="2.6"/>
<rect x="893.83" y="1849.80" width="7.9" height="20.00" rx="2.6"/>
<rect x="893.83" y="79.10" width="7.9" height="20.00" rx="2.6"/>
<rect x="1291.55" y="1849.80" width="7.9" height="20.00" rx="2.6"/>
<rect x="1291.55" y="79.10" width="7.9" height="20.00" rx="2.6"/>
<rect x="1689.27" y="1849.80" width="7.9" height="20.00" rx="2.6"/>
<rect x="1689.27" y="79.10" width="7.9" height="20.00" rx="2.6"/>
<rect x="2086.99" y="1849.80" width="7.9" height="20.00" rx="2.6"/>
<rect x="2086.99" y="79.10" width="7.9" height="20.00" rx="2.6"/>
<rect x="263.00" y="75.15" width="38.20" height="7.9" rx="2.6"/>
<rect x="263.00" y="326.75" width="38.20" height="7.9" rx="2.6"/>
<rect x="2251.60" y="326.75" width="38.20" height="7.9" rx="2.6"/>
<rect x="263.00" y="579.65" width="38.20" height="7.9" rx="2.6"/>
<rect x="2251.60" y="579.65" width="38.20" height="7.9" rx="2.6"/>
<rect x="263.00" y="832.55" width="38.20" height="7.9" rx="2.6"/>
<rect x="2251.60" y="832.55" width="38.20" height="7.9" rx="2.6"/>
<rect x="263.00" y="1085.45" width="38.20" height="7.9" rx="2.6"/>
<rect x="2251.60" y="1085.45" width="38.20" height="7.9" rx="2.6"/>
<rect x="263.00" y="1338.35" width="38.20" height="7.9" rx="2.6"/>
<rect x="2251.60" y="1338.35" width="38.20" height="7.9" rx="2.6"/>
<rect x="263.00" y="1591.25" width="38.20" height="7.9" rx="2.6"/>
<rect x="2251.60" y="1591.25" width="38.20" height="7.9" rx="2.6"/>
<rect x="263.00" y="1845.45" width="38.20" height="7.9" rx="2.6"/>
<rect x="279.10" y="200.30" width="22.10" height="7.9" rx="2.6"/>
<rect x="2267.70" y="200.30" width="22.10" height="7.9" rx="2.6"/>
<rect x="279.10" y="453.20" width="22.10" height="7.9" rx="2.6"/>
<rect x="2267.70" y="453.20" width="22.10" height="7.9" rx="2.6"/>
<rect x="279.10" y="706.10" width="22.10" height="7.9" rx="2.6"/>
<rect x="2267.70" y="706.10" width="22.10" height="7.9" rx="2.6"/>
<rect x="279.10" y="959.00" width="22.10" height="7.9" rx="2.6"/>
<rect x="2267.70" y="959.00" width="22.10" height="7.9" rx="2.6"/>
<rect x="279.10" y="1211.90" width="22.10" height="7.9" rx="2.6"/>
<rect x="2267.70" y="1211.90" width="22.10" height="7.9" rx="2.6"/>
<rect x="279.10" y="1464.80" width="22.10" height="7.9" rx="2.6"/>
<rect x="2267.70" y="1464.80" width="22.10" height="7.9" rx="2.6"/>
<rect x="279.10" y="1717.70" width="22.10" height="7.9" rx="2.6"/>
<rect x="2267.70" y="1717.70" width="22.10" height="7.9" rx="2.6"/>
<text transform="translate(246.0,95.4) scale(0.958,1.028)" font-size="68.6" text-anchor="end" font-family="Liberation Sans, Arial, sans-serif" font-weight="bold" stroke="#000" stroke-width="0.9" stroke-linejoin="round" >2.0</text>
<text transform="translate(246.0,348.3) scale(0.958,1.028)" font-size="68.6" text-anchor="end" font-family="Liberation Sans, Arial, sans-serif" font-weight="bold" stroke="#000" stroke-width="0.9" stroke-linejoin="round" >1.0</text>
<text transform="translate(246.0,601.2) scale(0.958,1.028)" font-size="68.6" text-anchor="end" font-family="Liberation Sans, Arial, sans-serif" font-weight="bold" stroke="#000" stroke-width="0.9" stroke-linejoin="round" >0.0</text>
<text transform="translate(246.0,854.1) scale(0.958,1.028)" font-size="68.6" text-anchor="end" font-family="Liberation Sans, Arial, sans-serif" font-weight="bold" stroke="#000" stroke-width="0.9" stroke-linejoin="round" >-1.0</text>
<text transform="translate(246.0,1107.0) scale(0.958,1.028)" font-size="68.6" text-anchor="end" font-family="Liberation Sans, Arial, sans-serif" font-weight="bold" stroke="#000" stroke-width="0.9" stroke-linejoin="round" >-2.0</text>
<text transform="translate(246.0,1359.9) scale(0.958,1.028)" font-size="68.6" text-anchor="end" font-family="Liberation Sans, Arial, sans-serif" font-weight="bold" stroke="#000" stroke-width="0.9" stroke-linejoin="round" >-3.0</text>
<text transform="translate(246.0,1612.8) scale(0.958,1.028)" font-size="68.6" text-anchor="end" font-family="Liberation Sans, Arial, sans-serif" font-weight="bold" stroke="#000" stroke-width="0.9" stroke-linejoin="round" >-4.0</text>
<text transform="translate(246.0,1865.7) scale(0.958,1.028)" font-size="68.6" text-anchor="end" font-family="Liberation Sans, Arial, sans-serif" font-weight="bold" stroke="#000" stroke-width="0.9" stroke-linejoin="round" >-5.0</text>
<text transform="translate(301.7,1956.0) scale(0.958,1.028)" font-size="68.6" text-anchor="middle" font-family="Liberation Sans, Arial, sans-serif" font-weight="bold" stroke="#000" stroke-width="0.9" stroke-linejoin="round" >0.0</text>
<text transform="translate(699.4,1956.0) scale(0.958,1.028)" font-size="68.6" text-anchor="middle" font-family="Liberation Sans, Arial, sans-serif" font-weight="bold" stroke="#000" stroke-width="0.9" stroke-linejoin="round" >0.3</text>
<text transform="translate(1097.1,1956.0) scale(0.958,1.028)" font-size="68.6" text-anchor="middle" font-family="Liberation Sans, Arial, sans-serif" font-weight="bold" stroke="#000" stroke-width="0.9" stroke-linejoin="round" >0.6</text>
<text transform="translate(1494.9,1956.0) scale(0.958,1.028)" font-size="68.6" text-anchor="middle" font-family="Liberation Sans, Arial, sans-serif" font-weight="bold" stroke="#000" stroke-width="0.9" stroke-linejoin="round" >0.9</text>
<text transform="translate(1892.6,1956.0) scale(0.958,1.028)" font-size="68.6" text-anchor="middle" font-family="Liberation Sans, Arial, sans-serif" font-weight="bold" stroke="#000" stroke-width="0.9" stroke-linejoin="round" >1.2</text>
<text transform="translate(2290.3,1956.0) scale(0.958,1.028)" font-size="68.6" text-anchor="middle" font-family="Liberation Sans, Arial, sans-serif" font-weight="bold" stroke="#000" stroke-width="0.9" stroke-linejoin="round" >1.5</text>
<text transform="translate(1296.5,2070.0) scale(0.958,1.028)" font-size="68.6" text-anchor="middle" font-family="Liberation Sans, Arial, sans-serif" font-weight="bold" stroke="#000" stroke-width="0.9" stroke-linejoin="round" >Time (s)</text>
<text transform="translate(90.4,957.0) rotate(-90) scale(0.996,1.028)" font-size="68.6" text-anchor="middle" font-family="Liberation Sans, Arial, sans-serif" font-weight="bold" stroke="#000" stroke-width="0.9" stroke-linejoin="round" >Acceleration (g)</text>
<text transform="translate(1206.8,2250.6) scale(1.005,1)" font-size="84" text-anchor="middle" font-family="Liberation Serif, Times New Roman, serif">(<tspan font-weight="bold">a</tspan>)</text>
<rect x="299.95" y="2385.30" width="2017.08" height="8.2"/>
<rect x="299.95" y="4174.90" width="2017.08" height="8.2"/>
<rect x="299.95" y="2385.30" width="8.1" height="1797.80"/>
<rect x="2308.78" y="2385.30" width="8.25" height="1797.80"/>
<rect x="300.05" y="4179.40" width="7.9" height="38.80" rx="2.6"/>
<rect x="701.83" y="4179.40" width="7.9" height="38.80" rx="2.6"/>
<rect x="701.83" y="2389.40" width="7.9" height="38.80" rx="2.6"/>
<rect x="1103.61" y="4179.40" width="7.9" height="38.80" rx="2.6"/>
<rect x="1103.61" y="2389.40" width="7.9" height="38.80" rx="2.6"/>
<rect x="1505.39" y="4179.40" width="7.9" height="38.80" rx="2.6"/>
<rect x="1505.39" y="2389.40" width="7.9" height="38.80" rx="2.6"/>
<rect x="1907.17" y="4179.40" width="7.9" height="38.80" rx="2.6"/>
<rect x="1907.17" y="2389.40" width="7.9" height="38.80" rx="2.6"/>
<rect x="2308.95" y="4179.40" width="7.9" height="38.80" rx="2.6"/>
<rect x="500.94" y="4179.40" width="7.9" height="20.00" rx="2.6"/>
<rect x="500.94" y="2389.40" width="7.9" height="20.00" rx="2.6"/>
<rect x="902.72" y="4179.40" width="7.9" height="20.00" rx="2.6"/>
<rect x="902.72" y="2389.40" width="7.9" height="20.00" rx="2.6"/>
<rect x="1304.50" y="4179.40" width="7.9" height="20.00" rx="2.6"/>
<rect x="1304.50" y="2389.40" width="7.9" height="20.00" rx="2.6"/>
<rect x="1706.28" y="4179.40" width="7.9" height="20.00" rx="2.6"/>
<rect x="1706.28" y="2389.40" width="7.9" height="20.00" rx="2.6"/>
<rect x="2108.06" y="4179.40" width="7.9" height="20.00" rx="2.6"/>
<rect x="2108.06" y="2389.40" width="7.9" height="20.00" rx="2.6"/>
<rect x="265.20" y="2385.45" width="38.80" height="7.9" rx="2.6"/>
<rect x="265.20" y="2608.45" width="38.80" height="7.9" rx="2.6"/>
<rect x="2274.10" y="2608.45" width="38.80" height="7.9" rx="2.6"/>
<rect x="265.20" y="2832.15" width="38.80" height="7.9" rx="2.6"/>
<rect x="2274.10" y="2832.15" width="38.80" height="7.9" rx="2.6"/>
<rect x="265.20" y="3055.85" width="38.80" height="7.9" rx="2.6"/>
<rect x="2274.10" y="3055.85" width="38.80" height="7.9" rx="2.6"/>
<rect x="265.20" y="3279.55" width="38.80" height="7.9" rx="2.6"/>
<rect x="2274.10" y="3279.55" width="38.80" height="7.9" rx="2.6"/>
<rect x="265.20" y="3503.25" width="38.80" height="7.9" rx="2.6"/>
<rect x="2274.10" y="3503.25" width="38.80" height="7.9" rx="2.6"/>
<rect x="265.20" y="3726.95" width="38.80" height="7.9" rx="2.6"/>
<rect x="2274.10" y="3726.95" width="38.80" height="7.9" rx="2.6"/>
<rect x="265.20" y="3950.65" width="38.80" height="7.9" rx="2.6"/>
<rect x="2274.10" y="3950.65" width="38.80" height="7.9" rx="2.6"/>
<rect x="265.20" y="4175.05" width="38.80" height="7.9" rx="2.6"/>
<rect x="281.90" y="2496.60" width="22.10" height="7.9" rx="2.6"/>
<rect x="2290.80" y="2496.60" width="22.10" height="7.9" rx="2.6"/>
<rect x="281.90" y="2720.30" width="22.10" height="7.9" rx="2.6"/>
<rect x="2290.80" y="2720.30" width="22.10" height="7.9" rx="2.6"/>
<rect x="281.90" y="2944.00" width="22.10" height="7.9" rx="2.6"/>
<rect x="2290.80" y="2944.00" width="22.10" height="7.9" rx="2.6"/>
<rect x="281.90" y="3167.70" width="22.10" height="7.9" rx="2.6"/>
<rect x="2290.80" y="3167.70" width="22.10" height="7.9" rx="2.6"/>
<rect x="281.90" y="3391.40" width="22.10" height="7.9" rx="2.6"/>
<rect x="2290.80" y="3391.40" width="22.10" height="7.9" rx="2.6"/>
<rect x="281.90" y="3615.10" width="22.10" height="7.9" rx="2.6"/>
<rect x="2290.80" y="3615.10" width="22.10" height="7.9" rx="2.6"/>
<rect x="281.90" y="3838.80" width="22.10" height="7.9" rx="2.6"/>
<rect x="2290.80" y="3838.80" width="22.10" height="7.9" rx="2.6"/>
<rect x="281.90" y="4062.50" width="22.10" height="7.9" rx="2.6"/>
<rect x="2290.80" y="4062.50" width="22.10" height="7.9" rx="2.6"/>
<text transform="translate(246.5,2405.7) scale(0.958,1.028)" font-size="68.6" text-anchor="end" font-family="Liberation Sans, Arial, sans-serif" font-weight="bold" stroke="#000" stroke-width="0.9" stroke-linejoin="round" >3.5</text>
<text transform="translate(246.5,2629.4) scale(0.958,1.028)" font-size="68.6" text-anchor="end" font-family="Liberation Sans, Arial, sans-serif" font-weight="bold" stroke="#000" stroke-width="0.9" stroke-linejoin="round" >3.0</text>
<text transform="translate(246.5,2853.1) scale(0.958,1.028)" font-size="68.6" text-anchor="end" font-family="Liberation Sans, Arial, sans-serif" font-weight="bold" stroke="#000" stroke-width="0.9" stroke-linejoin="round" >2.5</text>
<text transform="translate(246.5,3076.8) scale(0.958,1.028)" font-size="68.6" text-anchor="end" font-family="Liberation Sans, Arial, sans-serif" font-weight="bold" stroke="#000" stroke-width="0.9" stroke-linejoin="round" >2.0</text>
<text transform="translate(246.5,3300.5) scale(0.958,1.028)" font-size="68.6" text-anchor="end" font-family="Liberation Sans, Arial, sans-serif" font-weight="bold" stroke="#000" stroke-width="0.9" stroke-linejoin="round" >1.5</text>
<text transform="translate(246.5,3524.2) scale(0.958,1.028)" font-size="68.6" text-anchor="end" font-family="Liberation Sans, Arial, sans-serif" font-weight="bold" stroke="#000" stroke-width="0.9" stroke-linejoin="round" >1.0</text>
<text transform="translate(246.5,3747.9) scale(0.958,1.028)" font-size="68.6" text-anchor="end" font-family="Liberation Sans, Arial, sans-serif" font-weight="bold" stroke="#000" stroke-width="0.9" stroke-linejoin="round" >0.5</text>
<text transform="translate(246.5,3971.6) scale(0.958,1.028)" font-size="68.6" text-anchor="end" font-family="Liberation Sans, Arial, sans-serif" font-weight="bold" stroke="#000" stroke-width="0.9" stroke-linejoin="round" >0.0</text>
<text transform="translate(246.5,4195.3) scale(0.958,1.028)" font-size="68.6" text-anchor="end" font-family="Liberation Sans, Arial, sans-serif" font-weight="bold" stroke="#000" stroke-width="0.9" stroke-linejoin="round" >-0.5</text>
<text transform="translate(304.5,4286.0) scale(0.958,1.028)" font-size="68.6" text-anchor="middle" font-family="Liberation Sans, Arial, sans-serif" font-weight="bold" stroke="#000" stroke-width="0.9" stroke-linejoin="round" >0.0</text>
<text transform="translate(706.3,4286.0) scale(0.958,1.028)" font-size="68.6" text-anchor="middle" font-family="Liberation Sans, Arial, sans-serif" font-weight="bold" stroke="#000" stroke-width="0.9" stroke-linejoin="round" >0.3</text>
<text transform="translate(1108.1,4286.0) scale(0.958,1.028)" font-size="68.6" text-anchor="middle" font-family="Liberation Sans, Arial, sans-serif" font-weight="bold" stroke="#000" stroke-width="0.9" stroke-linejoin="round" >0.6</text>
<text transform="translate(1509.8,4286.0) scale(0.958,1.028)" font-size="68.6" text-anchor="middle" font-family="Liberation Sans, Arial, sans-serif" font-weight="bold" stroke="#000" stroke-width="0.9" stroke-linejoin="round" >0.9</text>
<text transform="translate(1911.6,4286.0) scale(0.958,1.028)" font-size="68.6" text-anchor="middle" font-family="Liberation Sans, Arial, sans-serif" font-weight="bold" stroke="#000" stroke-width="0.9" stroke-linejoin="round" >1.2</text>
<text transform="translate(2313.4,4286.0) scale(0.958,1.028)" font-size="68.6" text-anchor="middle" font-family="Liberation Sans, Arial, sans-serif" font-weight="bold" stroke="#000" stroke-width="0.9" stroke-linejoin="round" >1.5</text>
<text transform="translate(1309.0,4402.0) scale(0.958,1.028)" font-size="68.6" text-anchor="middle" font-family="Liberation Sans, Arial, sans-serif" font-weight="bold" stroke="#000" stroke-width="0.9" stroke-linejoin="round" >Time (s)</text>
<text transform="translate(122.7,3240.0) rotate(-90) scale(1.011,1.028)" font-size="68.6" text-anchor="middle" font-family="Liberation Sans, Arial, sans-serif" font-weight="bold" stroke="#000" stroke-width="0.9" stroke-linejoin="round" >Velocity (m/s)</text>
<text transform="translate(1207.2,4560.4) scale(1.055,1)" font-size="84" text-anchor="middle" font-family="Liberation Serif, Times New Roman, serif">(<tspan font-weight="bold">b</tspan>)</text>
<path d="M1390.75 1480.2H1576.25" stroke="#000" stroke-width="9.5" stroke-linecap="round" stroke-dasharray="24 35.6" fill="none"/>
<path d="M1390.75 1582.7H1576.25" stroke="#000" stroke-width="9.5" stroke-linecap="round" fill="none"/>
<path d="M1389 1685.5H1578M1389 1787.6H1578" stroke="#000" stroke-width="6" stroke-linecap="round" fill="none"/>
<circle cx="1484.2" cy="1686.0" r="10.1" fill="#fff" stroke="#000" stroke-width="3"/><rect x="1481.8" y="1684.5" width="4.6" height="2.8"/>
<path d="M1484.2 1776.1999999999998L1495.4 1794.8H1473.0Z" fill="#fff" stroke="#000" stroke-width="2.8"/><rect x="1481.8" y="1786.3999999999999" width="4.6" height="2.8"/>
<text transform="translate(1594.0,1509.2) scale(0.958,1.078)" font-size="60.1" text-anchor="start" font-family="Liberation Sans, Arial, sans-serif" font-weight="bold" stroke="#000" stroke-width="0.9" stroke-linejoin="round" >Friction coefficient=0.4</text>
<text transform="translate(1594.0,1611.7) scale(0.958,1.078)" font-size="60.1" text-anchor="start" font-family="Liberation Sans, Arial, sans-serif" font-weight="bold" stroke="#000" stroke-width="0.9" stroke-linejoin="round" >Friction coefficient=0.5</text>
<text transform="translate(1594.0,1714.5) scale(0.958,1.078)" font-size="60.1" text-anchor="start" font-family="Liberation Sans, Arial, sans-serif" font-weight="bold" stroke="#000" stroke-width="0.9" stroke-linejoin="round" >Friction coefficient=0.6</text>
<text transform="translate(1594.0,1816.6) scale(0.958,1.078)" font-size="60.1" text-anchor="start" font-family="Liberation Sans, Arial, sans-serif" font-weight="bold" stroke="#000" stroke-width="0.9" stroke-linejoin="round" >Friction coefficient=0.7</text>
<path d="M1401.75 2467.3H1587.55" stroke="#000" stroke-width="9.5" stroke-linecap="round" stroke-dasharray="24 35.6" fill="none"/>
<path d="M1401.75 2570.3H1587.55" stroke="#000" stroke-width="9.5" stroke-linecap="round" fill="none"/>
<path d="M1400 2674H1589.3M1400 2777H1589.3" stroke="#000" stroke-width="6" stroke-linecap="round" fill="none"/>
<circle cx="1495.3500000000001" cy="2674.5" r="10.1" fill="#fff" stroke="#000" stroke-width="3"/><rect x="1492.95" y="2673" width="4.6" height="2.8"/>
<path d="M1495.3500000000001 2765.6L1506.5500000000002 2784.2H1484.15Z" fill="#fff" stroke="#000" stroke-width="2.8"/><rect x="1492.95" y="2775.8" width="4.6" height="2.8"/>
<text transform="translate(1607.0,2496.9) scale(0.958,1.078)" font-size="60.4" text-anchor="start" font-family="Liberation Sans, Arial, sans-serif" font-weight="bold" stroke="#000" stroke-width="0.9" stroke-linejoin="round" >Friction coefficient=0.4</text>
<text transform="translate(1607.0,2599.9) scale(0.958,1.078)" font-size="60.4" text-anchor="start" font-family="Liberation Sans, Arial, sans-serif" font-weight="bold" stroke="#000" stroke-width="0.9" stroke-linejoin="round" >Friction coefficient=0.5</text>
<text transform="translate(1607.0,2703.6) scale(0.958,1.078)" font-size="60.4" text-anchor="start" font-family="Liberation Sans, Arial, sans-serif" font-weight="bold" stroke="#000" stroke-width="0.9" stroke-linejoin="round" >Friction coefficient=0.6</text>
<text transform="translate(1607.0,2806.6) scale(0.958,1.078)" font-size="60.4" text-anchor="start" font-family="Liberation Sans, Arial, sans-serif" font-weight="bold" stroke="#000" stroke-width="0.9" stroke-linejoin="round" >Friction coefficient=0.7</text>
</svg>
</body></html>
